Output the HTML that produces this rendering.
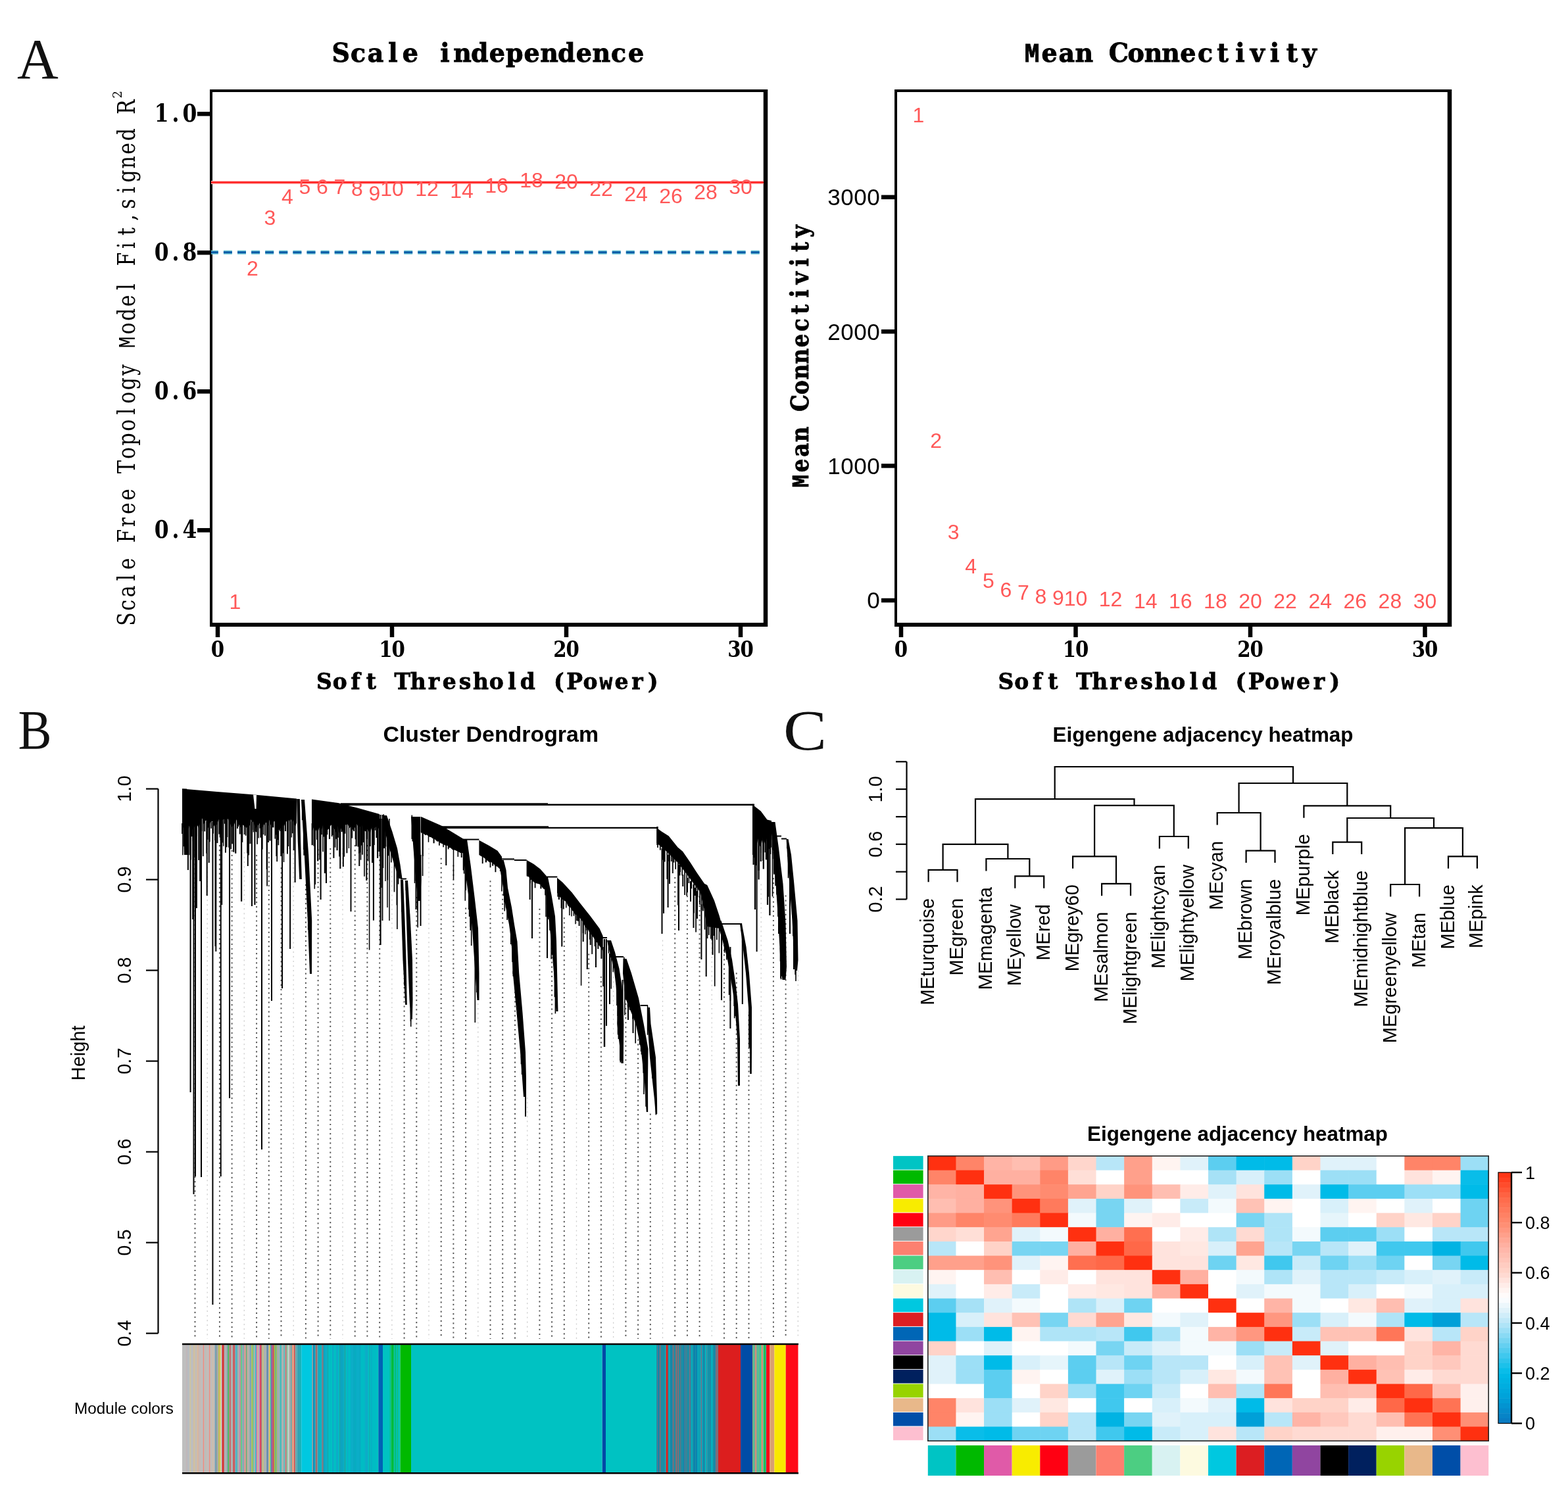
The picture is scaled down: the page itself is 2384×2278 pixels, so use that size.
<!DOCTYPE html>
<html><head><meta charset="utf-8"><title>WGCNA figure</title><style>html,body{margin:0;padding:0;background:#fff;}svg{display:block;}</style></head><body>
<svg width="2384" height="2278" viewBox="0 0 2384 2278">
<rect width="2384" height="2278" fill="#fff"/>
<text x="26" y="118.5" font-family="Liberation Serif, serif" font-size="87" fill="#111">A</text>
<text transform="translate(505.0,93.5) scale(0.950,1)" x="-0.55 29.51 56.51 89.67 112.33 145.88 173.03 193.88 222.23 251.28 277.81 306.85 332.83 361.17 390.22 416.20 446.35 473.59" y="0" font-family="DejaVu Serif, serif" font-weight="bold" font-size="40.0" fill="#000" stroke="#000" stroke-width="0.90">Scale independence</text>
<text transform="translate(1556.0,93.5) scale(0.950,1)" x="1.87 28.88 56.38 82.54 117.85 136.63 166.95 193.49 221.22 250.78 279.06 309.74 339.11 362.83 394.59 420.68 446.04" y="0" font-family="DejaVu Serif, serif" font-weight="bold" font-size="40.0" fill="#000" stroke="#000" stroke-width="0.90"><tspan font-family="Liberation Mono, monospace">M</tspan>ean Connectivity</text>
<path d="M319.0 138.0 H1164.0" stroke="#000" stroke-width="4" />
<path d="M321.0 136.0 V950.0" stroke="#000" stroke-width="4" />
<path d="M1164.0 136.0 V953.0" stroke="#000" stroke-width="6.5" />
<path d="M319.0 950.0 H1167.0" stroke="#000" stroke-width="6" />
<path d="M1360.0 138.0 H2204.0" stroke="#000" stroke-width="4" />
<path d="M1362.0 136.0 V950.0" stroke="#000" stroke-width="4" />
<path d="M2204.0 136.0 V953.0" stroke="#000" stroke-width="6.5" />
<path d="M1360.0 950.0 H2207.0" stroke="#000" stroke-width="6" />
<path d="M321 277.4 H1161" stroke="#ffb0b0" stroke-width="5" />
<path d="M321 277.4 H1161" stroke="#ff1010" stroke-width="2.2" />
<path d="M318.8 383.8 H1161" stroke="#6cc4d4" stroke-width="6" stroke-dasharray="13 8.1" />
<path d="M318.8 383.8 H1161" stroke="#0b5aa6" stroke-width="3" stroke-dasharray="13 8.1" />
<path d="M300 173.2 H321" stroke="#000" stroke-width="6.5" />
<text transform="translate(235.1,184.7) scale(0.860,1)" x="-0.31 30.80 49.22" y="0" font-family="DejaVu Serif, serif" font-weight="bold" font-size="36.5" fill="#000">1.0</text>
<path d="M300 384.2 H321" stroke="#000" stroke-width="6.5" />
<text transform="translate(235.1,395.7) scale(0.860,1)" x="-0.31 30.80 49.22" y="0" font-family="DejaVu Serif, serif" font-weight="bold" font-size="36.5" fill="#000">0.8</text>
<path d="M300 595.3 H321" stroke="#000" stroke-width="6.5" />
<text transform="translate(235.1,606.8) scale(0.860,1)" x="-0.31 30.80 49.22" y="0" font-family="DejaVu Serif, serif" font-weight="bold" font-size="36.5" fill="#000">0.6</text>
<path d="M300 806.3 H321" stroke="#000" stroke-width="6.5" />
<text transform="translate(235.1,817.8) scale(0.860,1)" x="-0.31 30.80 49.22" y="0" font-family="DejaVu Serif, serif" font-weight="bold" font-size="36.5" fill="#000">0.4</text>
<path d="M331.0 950 V969" stroke="#000" stroke-width="6.5" />
<text transform="translate(321.4,999.0) scale(0.860,1)" x="-0.67" y="0" font-family="DejaVu Serif, serif" font-weight="bold" font-size="34.0" fill="#000">0</text>
<path d="M596.0 950 V969" stroke="#000" stroke-width="6.5" />
<text transform="translate(576.8,999.0) scale(0.860,1)" x="-0.67 21.66" y="0" font-family="DejaVu Serif, serif" font-weight="bold" font-size="34.0" fill="#000">10</text>
<path d="M861.0 950 V969" stroke="#000" stroke-width="6.5" />
<text transform="translate(841.8,999.0) scale(0.860,1)" x="-0.67 21.66" y="0" font-family="DejaVu Serif, serif" font-weight="bold" font-size="34.0" fill="#000">20</text>
<path d="M1126.0 950 V969" stroke="#000" stroke-width="6.5" />
<text transform="translate(1106.8,999.0) scale(0.860,1)" x="-0.67 21.66" y="0" font-family="DejaVu Serif, serif" font-weight="bold" font-size="34.0" fill="#000">30</text>
<path d="M1370.0 950 V969" stroke="#000" stroke-width="6.5" />
<text transform="translate(1360.4,999.0) scale(0.860,1)" x="-0.67" y="0" font-family="DejaVu Serif, serif" font-weight="bold" font-size="34.0" fill="#000">0</text>
<path d="M1635.5 950 V969" stroke="#000" stroke-width="6.5" />
<text transform="translate(1616.3,999.0) scale(0.860,1)" x="-0.67 21.66" y="0" font-family="DejaVu Serif, serif" font-weight="bold" font-size="34.0" fill="#000">10</text>
<path d="M1901.0 950 V969" stroke="#000" stroke-width="6.5" />
<text transform="translate(1881.8,999.0) scale(0.860,1)" x="-0.67 21.66" y="0" font-family="DejaVu Serif, serif" font-weight="bold" font-size="34.0" fill="#000">20</text>
<path d="M2166.5 950 V969" stroke="#000" stroke-width="6.5" />
<text transform="translate(2147.3,999.0) scale(0.860,1)" x="-0.67 21.66" y="0" font-family="DejaVu Serif, serif" font-weight="bold" font-size="34.0" fill="#000">30</text>
<text transform="translate(481.0,1048.0) scale(0.970,1)" x="-0.01 25.47 54.03 78.02 104.49 122.30 147.12 175.06 197.74 223.52 245.27 270.83 300.24 319.35 349.85 372.27 392.06 418.04 443.72 467.64 494.03 519.48" y="0" font-family="DejaVu Serif, serif" font-weight="bold" font-size="34.0" fill="#000" stroke="#000" stroke-width="0.80">Soft Threshold (Po<tspan font-family="Liberation Mono, monospace">w</tspan>er)</text>
<text transform="translate(1517.5,1048.0) scale(0.970,1)" x="-0.01 25.47 54.03 78.02 104.49 122.30 147.12 175.06 197.74 223.52 245.27 270.83 300.24 319.35 349.85 372.27 392.06 418.04 443.72 467.64 494.03 519.48" y="0" font-family="DejaVu Serif, serif" font-weight="bold" font-size="34.0" fill="#000" stroke="#000" stroke-width="0.80">Soft Threshold (Po<tspan font-family="Liberation Mono, monospace">w</tspan>er)</text>
<text transform="translate(204.5,952.0) rotate(-90) scale(0.800,1)" x="0.31 28.97 54.60 86.10 107.31 138.76 158.02 188.38 212.56 238.87 270.32 290.09 317.62 343.22 370.24 401.85 422.87 448.47 476.19 507.13 528.15 554.43 580.03 607.25 638.66 665.01 684.27 717.60 742.37 770.26 792.91 822.85 843.15 869.39 896.69 922.09 954.45 972.60" y="0" font-family="DejaVu Serif, serif" font-weight="normal" font-size="37.5" fill="#000">Scale Free Topology <tspan font-family="Liberation Mono, monospace">M</tspan>odel Fit,signed R</text>
<text transform="translate(185,149.5) rotate(-90)" x="0" y="0" font-family="DejaVu Serif, serif" font-size="18" fill="#000">2</text>
<text transform="translate(1228.7,743.5) rotate(-90) scale(0.880,1)" x="2.39 28.71 55.48 81.01 115.01 133.71 163.09 188.96 215.95 244.62 272.12 301.82 330.33 353.60 384.31 409.78 434.56" y="0" font-family="DejaVu Serif, serif" font-weight="bold" font-size="37.0" fill="#000" stroke="#000" stroke-width="0.80"><tspan font-family="Liberation Mono, monospace">M</tspan>ean Connectivity</text>
<path d="M1340 913.0 H1362" stroke="#000" stroke-width="6.5" />
<text x="1318.3" y="925.3" font-family="Liberation Sans, serif" font-weight="normal" font-size="35.0" fill="#000" >0</text>
<path d="M1340 708.4 H1362" stroke="#000" stroke-width="6.5" />
<text x="1258.3 1278.3 1298.3 1318.3" y="720.7" font-family="Liberation Sans, serif" font-weight="normal" font-size="35.0" fill="#000" >1000</text>
<path d="M1340 504.2 H1362" stroke="#000" stroke-width="6.5" />
<text x="1258.3 1278.3 1298.3 1318.3" y="516.5" font-family="Liberation Sans, serif" font-weight="normal" font-size="35.0" fill="#000" >2000</text>
<path d="M1340 299.8 H1362" stroke="#000" stroke-width="6.5" />
<text x="1258.3 1278.3 1298.3 1318.3" y="312.1" font-family="Liberation Sans, serif" font-weight="normal" font-size="35.0" fill="#000" >3000</text>
<text x="357.5" y="925.9" text-anchor="middle" font-family="Liberation Sans, sans-serif" font-size="32" fill="#ff5858">1</text>
<text x="1396.5" y="186.0" text-anchor="middle" font-family="Liberation Sans, sans-serif" font-size="32" fill="#ff5858">1</text>
<text x="384.0" y="418.5" text-anchor="middle" font-family="Liberation Sans, sans-serif" font-size="32" fill="#ff5858">2</text>
<text x="1423.1" y="680.5" text-anchor="middle" font-family="Liberation Sans, sans-serif" font-size="32" fill="#ff5858">2</text>
<text x="410.5" y="342.2" text-anchor="middle" font-family="Liberation Sans, sans-serif" font-size="32" fill="#ff5858">3</text>
<text x="1449.7" y="819.5" text-anchor="middle" font-family="Liberation Sans, sans-serif" font-size="32" fill="#ff5858">3</text>
<text x="437.0" y="310.3" text-anchor="middle" font-family="Liberation Sans, sans-serif" font-size="32" fill="#ff5858">4</text>
<text x="1476.2" y="872.2" text-anchor="middle" font-family="Liberation Sans, sans-serif" font-size="32" fill="#ff5858">4</text>
<text x="463.5" y="295.1" text-anchor="middle" font-family="Liberation Sans, sans-serif" font-size="32" fill="#ff5858">5</text>
<text x="1502.8" y="893.5" text-anchor="middle" font-family="Liberation Sans, sans-serif" font-size="32" fill="#ff5858">5</text>
<text x="490.0" y="295.1" text-anchor="middle" font-family="Liberation Sans, sans-serif" font-size="32" fill="#ff5858">6</text>
<text x="1529.3" y="907.5" text-anchor="middle" font-family="Liberation Sans, sans-serif" font-size="32" fill="#ff5858">6</text>
<text x="516.5" y="295.0" text-anchor="middle" font-family="Liberation Sans, sans-serif" font-size="32" fill="#ff5858">7</text>
<text x="1555.8" y="911.9" text-anchor="middle" font-family="Liberation Sans, sans-serif" font-size="32" fill="#ff5858">7</text>
<text x="543.0" y="297.9" text-anchor="middle" font-family="Liberation Sans, sans-serif" font-size="32" fill="#ff5858">8</text>
<text x="1582.4" y="917.5" text-anchor="middle" font-family="Liberation Sans, sans-serif" font-size="32" fill="#ff5858">8</text>
<text x="569.5" y="304.5" text-anchor="middle" font-family="Liberation Sans, sans-serif" font-size="32" fill="#ff5858">9</text>
<text x="1609.0" y="919.8" text-anchor="middle" font-family="Liberation Sans, sans-serif" font-size="32" fill="#ff5858">9</text>
<text x="596.0" y="297.9" text-anchor="middle" font-family="Liberation Sans, sans-serif" font-size="32" fill="#ff5858">10</text>
<text x="1635.5" y="920.5" text-anchor="middle" font-family="Liberation Sans, sans-serif" font-size="32" fill="#ff5858">10</text>
<text x="649.0" y="297.5" text-anchor="middle" font-family="Liberation Sans, sans-serif" font-size="32" fill="#ff5858">12</text>
<text x="1688.6" y="922.0" text-anchor="middle" font-family="Liberation Sans, sans-serif" font-size="32" fill="#ff5858">12</text>
<text x="702.0" y="300.5" text-anchor="middle" font-family="Liberation Sans, sans-serif" font-size="32" fill="#ff5858">14</text>
<text x="1741.7" y="924.7" text-anchor="middle" font-family="Liberation Sans, sans-serif" font-size="32" fill="#ff5858">14</text>
<text x="755.0" y="292.9" text-anchor="middle" font-family="Liberation Sans, sans-serif" font-size="32" fill="#ff5858">16</text>
<text x="1794.8" y="924.7" text-anchor="middle" font-family="Liberation Sans, sans-serif" font-size="32" fill="#ff5858">16</text>
<text x="808.0" y="285.3" text-anchor="middle" font-family="Liberation Sans, sans-serif" font-size="32" fill="#ff5858">18</text>
<text x="1847.9" y="924.7" text-anchor="middle" font-family="Liberation Sans, sans-serif" font-size="32" fill="#ff5858">18</text>
<text x="861.0" y="287.3" text-anchor="middle" font-family="Liberation Sans, sans-serif" font-size="32" fill="#ff5858">20</text>
<text x="1901.0" y="924.7" text-anchor="middle" font-family="Liberation Sans, sans-serif" font-size="32" fill="#ff5858">20</text>
<text x="914.0" y="297.5" text-anchor="middle" font-family="Liberation Sans, sans-serif" font-size="32" fill="#ff5858">22</text>
<text x="1954.1" y="924.7" text-anchor="middle" font-family="Liberation Sans, sans-serif" font-size="32" fill="#ff5858">22</text>
<text x="967.0" y="305.9" text-anchor="middle" font-family="Liberation Sans, sans-serif" font-size="32" fill="#ff5858">24</text>
<text x="2007.2" y="924.7" text-anchor="middle" font-family="Liberation Sans, sans-serif" font-size="32" fill="#ff5858">24</text>
<text x="1020.0" y="308.5" text-anchor="middle" font-family="Liberation Sans, sans-serif" font-size="32" fill="#ff5858">26</text>
<text x="2060.3" y="924.7" text-anchor="middle" font-family="Liberation Sans, sans-serif" font-size="32" fill="#ff5858">26</text>
<text x="1073.0" y="302.9" text-anchor="middle" font-family="Liberation Sans, sans-serif" font-size="32" fill="#ff5858">28</text>
<text x="2113.4" y="924.7" text-anchor="middle" font-family="Liberation Sans, sans-serif" font-size="32" fill="#ff5858">28</text>
<text x="1126.0" y="295.2" text-anchor="middle" font-family="Liberation Sans, sans-serif" font-size="32" fill="#ff5858">30</text>
<text x="2166.5" y="924.7" text-anchor="middle" font-family="Liberation Sans, sans-serif" font-size="32" fill="#ff5858">30</text>
<text transform="translate(27.5,1139) scale(0.9,1)" x="0" y="0" font-family="Liberation Serif, serif" font-size="85" fill="#111">B</text>
<text x="582.5" y="1128.4" font-family="Liberation Sans, sans-serif" font-weight="bold" font-size="33" textLength="327.5" lengthAdjust="spacingAndGlyphs">Cluster Dendrogram</text>
<path d="M240.5 1199.6 V2027.6" stroke="#000" stroke-width="2.2"/>
<path d="M222.0 1199.6 H240.5" stroke="#000" stroke-width="2.2"/>
<text transform="translate(199,1199.6) rotate(-90)" x="0" y="0" text-anchor="middle" font-family="Liberation Sans, sans-serif" font-size="29">1.0</text>
<path d="M222.0 1337.6 H240.5" stroke="#000" stroke-width="2.2"/>
<text transform="translate(199,1337.6) rotate(-90)" x="0" y="0" text-anchor="middle" font-family="Liberation Sans, sans-serif" font-size="29">0.9</text>
<path d="M222.0 1475.6 H240.5" stroke="#000" stroke-width="2.2"/>
<text transform="translate(199,1475.6) rotate(-90)" x="0" y="0" text-anchor="middle" font-family="Liberation Sans, sans-serif" font-size="29">0.8</text>
<path d="M222.0 1613.6 H240.5" stroke="#000" stroke-width="2.2"/>
<text transform="translate(199,1613.6) rotate(-90)" x="0" y="0" text-anchor="middle" font-family="Liberation Sans, sans-serif" font-size="29">0.7</text>
<path d="M222.0 1751.6 H240.5" stroke="#000" stroke-width="2.2"/>
<text transform="translate(199,1751.6) rotate(-90)" x="0" y="0" text-anchor="middle" font-family="Liberation Sans, sans-serif" font-size="29">0.6</text>
<path d="M222.0 1889.6 H240.5" stroke="#000" stroke-width="2.2"/>
<text transform="translate(199,1889.6) rotate(-90)" x="0" y="0" text-anchor="middle" font-family="Liberation Sans, sans-serif" font-size="29">0.5</text>
<path d="M222.0 2027.6 H240.5" stroke="#000" stroke-width="2.2"/>
<text transform="translate(199,2027.6) rotate(-90)" x="0" y="0" text-anchor="middle" font-family="Liberation Sans, sans-serif" font-size="29">0.4</text>
<text transform="translate(129,1601.4) rotate(-90)" x="0" y="0" text-anchor="middle" font-family="Liberation Sans, sans-serif" font-size="29">Height</text>
<text x="113" y="2149.7" font-family="Liberation Sans, sans-serif" font-size="23.5" textLength="151" lengthAdjust="spacingAndGlyphs">Module colors</text>
<g><path d="M296.5 1291.9 V2036" stroke="#555" stroke-width="1.9" stroke-dasharray="2.2 4.9"/><path d="M315.2 1289.9 V2036" stroke="#cfcfcf" stroke-width="1.3" stroke-dasharray="2.2 4.9"/><path d="M333.9 1285.0 V2036" stroke="#555" stroke-width="1.9" stroke-dasharray="2.2 4.9"/><path d="M352.6 1292.8 V2036" stroke="#555" stroke-width="1.9" stroke-dasharray="2.2 4.9"/><path d="M371.3 1295.9 V2036" stroke="#cfcfcf" stroke-width="1.3" stroke-dasharray="2.2 4.9"/><path d="M390.1 1300.0 V2036" stroke="#555" stroke-width="1.9" stroke-dasharray="2.2 4.9"/><path d="M408.8 1296.1 V2036" stroke="#555" stroke-width="1.9" stroke-dasharray="2.2 4.9"/><path d="M427.5 1319.3 V2036" stroke="#555" stroke-width="1.9" stroke-dasharray="2.2 4.9"/><path d="M446.2 1290.5 V2036" stroke="#cfcfcf" stroke-width="1.3" stroke-dasharray="2.2 4.9"/><path d="M464.9 1344.7 V2036" stroke="#555" stroke-width="1.9" stroke-dasharray="2.2 4.9"/><path d="M483.6 1291.2 V2036" stroke="#555" stroke-width="1.9" stroke-dasharray="2.2 4.9"/><path d="M502.3 1290.0 V2036" stroke="#555" stroke-width="1.9" stroke-dasharray="2.2 4.9"/><path d="M521.0 1290.0 V2036" stroke="#cfcfcf" stroke-width="1.3" stroke-dasharray="2.2 4.9"/><path d="M539.7 1285.1 V2036" stroke="#555" stroke-width="1.9" stroke-dasharray="2.2 4.9"/><path d="M558.4 1285.0 V2036" stroke="#555" stroke-width="1.9" stroke-dasharray="2.2 4.9"/><path d="M577.2 1300.1 V2036" stroke="#555" stroke-width="1.9" stroke-dasharray="2.2 4.9"/><path d="M595.9 1317.9 V2036" stroke="#cfcfcf" stroke-width="1.3" stroke-dasharray="2.2 4.9"/><path d="M614.6 1437.2 V2036" stroke="#555" stroke-width="1.9" stroke-dasharray="2.2 4.9"/><path d="M633.3 1363.9 V2036" stroke="#555" stroke-width="1.9" stroke-dasharray="2.2 4.9"/><path d="M652.0 1290.0 V2036" stroke="#cfcfcf" stroke-width="1.3" stroke-dasharray="2.2 4.9"/><path d="M670.7 1304.8 V2036" stroke="#555" stroke-width="1.9" stroke-dasharray="2.2 4.9"/><path d="M689.4 1315.4 V2036" stroke="#555" stroke-width="1.9" stroke-dasharray="2.2 4.9"/><path d="M708.1 1380.6 V2036" stroke="#555" stroke-width="1.9" stroke-dasharray="2.2 4.9"/><path d="M726.8 1469.2 V2036" stroke="#cfcfcf" stroke-width="1.3" stroke-dasharray="2.2 4.9"/><path d="M745.5 1339.2 V2036" stroke="#555" stroke-width="1.9" stroke-dasharray="2.2 4.9"/><path d="M764.2 1359.6 V2036" stroke="#555" stroke-width="1.9" stroke-dasharray="2.2 4.9"/><path d="M783.0 1479.7 V2036" stroke="#555" stroke-width="1.9" stroke-dasharray="2.2 4.9"/><path d="M801.7 1668.7 V2036" stroke="#cfcfcf" stroke-width="1.3" stroke-dasharray="2.2 4.9"/><path d="M820.4 1381.8 V2036" stroke="#555" stroke-width="1.9" stroke-dasharray="2.2 4.9"/><path d="M839.1 1419.9 V2036" stroke="#555" stroke-width="1.9" stroke-dasharray="2.2 4.9"/><path d="M857.8 1395.3 V2036" stroke="#555" stroke-width="1.9" stroke-dasharray="2.2 4.9"/><path d="M876.5 1401.8 V2036" stroke="#cfcfcf" stroke-width="1.3" stroke-dasharray="2.2 4.9"/><path d="M895.2 1450.4 V2036" stroke="#555" stroke-width="1.9" stroke-dasharray="2.2 4.9"/><path d="M913.9 1484.9 V2036" stroke="#555" stroke-width="1.9" stroke-dasharray="2.2 4.9"/><path d="M932.6 1478.1 V2036" stroke="#cfcfcf" stroke-width="1.3" stroke-dasharray="2.2 4.9"/><path d="M951.4 1518.6 V2036" stroke="#555" stroke-width="1.9" stroke-dasharray="2.2 4.9"/><path d="M970.1 1580.4 V2036" stroke="#555" stroke-width="1.9" stroke-dasharray="2.2 4.9"/><path d="M988.8 1693.6 V2036" stroke="#555" stroke-width="1.9" stroke-dasharray="2.2 4.9"/><path d="M1007.5 1429.5 V2036" stroke="#cfcfcf" stroke-width="1.3" stroke-dasharray="2.2 4.9"/><path d="M1026.2 1333.9 V2036" stroke="#555" stroke-width="1.9" stroke-dasharray="2.2 4.9"/><path d="M1044.9 1347.9 V2036" stroke="#555" stroke-width="1.9" stroke-dasharray="2.2 4.9"/><path d="M1063.6 1362.7 V2036" stroke="#555" stroke-width="1.9" stroke-dasharray="2.2 4.9"/><path d="M1082.3 1391.0 V2036" stroke="#cfcfcf" stroke-width="1.3" stroke-dasharray="2.2 4.9"/><path d="M1101.0 1430.0 V2036" stroke="#555" stroke-width="1.9" stroke-dasharray="2.2 4.9"/><path d="M1119.7 1479.3 V2036" stroke="#555" stroke-width="1.9" stroke-dasharray="2.2 4.9"/><path d="M1138.5 1543.1 V2036" stroke="#555" stroke-width="1.9" stroke-dasharray="2.2 4.9"/><path d="M1157.2 1344.3 V2036" stroke="#cfcfcf" stroke-width="1.3" stroke-dasharray="2.2 4.9"/><path d="M1175.9 1335.0 V2036" stroke="#555" stroke-width="1.9" stroke-dasharray="2.2 4.9"/><path d="M1194.6 1361.4 V2036" stroke="#555" stroke-width="1.9" stroke-dasharray="2.2 4.9"/><path d="M1213.3 1475.6 V2036" stroke="#cfcfcf" stroke-width="1.3" stroke-dasharray="2.2 4.9"/></g>
<g><polygon points="277.0,1199.5 330.0,1204.0 384.0,1208.3 451.0,1214.5 451.0,1251.2 449.1,1256.4 447.4,1254.5 445.0,1246.8 442.3,1246.5 439.7,1247.0 437.9,1252.6 434.4,1247.7 432.3,1255.8 428.5,1254.9 426.0,1261.3 424.3,1259.4 422.1,1247.9 420.3,1250.5 416.8,1248.4 413.8,1255.7 411.4,1254.2 409.7,1246.4 407.7,1256.3 405.2,1250.4 402.2,1252.6 399.9,1258.0 396.7,1249.1 393.8,1253.6 390.1,1256.8 387.9,1260.8 386.1,1251.8 382.7,1247.5 379.9,1245.6 376.8,1257.2 373.8,1258.9 371.6,1256.0 368.6,1254.1 365.9,1258.3 362.1,1252.4 358.9,1245.7 355.7,1255.0 351.7,1257.8 349.5,1250.8 346.3,1244.9 343.6,1247.2 341.8,1245.5 338.4,1246.5 336.3,1250.7 332.6,1245.7 330.0,1253.2 326.3,1257.4 322.6,1248.7 320.1,1250.0 316.4,1259.5 314.5,1247.0 312.4,1247.9 309.7,1253.5 307.6,1244.2 305.0,1250.0 302.1,1259.3 298.9,1252.7 295.8,1256.6 294.2,1260.9 290.7,1262.0 287.2,1255.8 284.7,1252.3 281.7,1253.0 280.0,1256.0 278.1,1259.0 277.0,1262.0" fill="#000"/>
<path d="M277.0 1252.0 V1267.9" stroke="#000" stroke-width="1.7"/>
<path d="M277.9 1251.6 V1300.3" stroke="#000" stroke-width="1.5"/>
<path d="M279.3 1251.0 V1287.2" stroke="#000" stroke-width="1.5"/>
<path d="M282.1 1249.8 V1291.1" stroke="#000" stroke-width="1.8"/>
<path d="M283.1 1249.3 V1282.4" stroke="#000" stroke-width="1.6"/>
<path d="M285.9 1248.1 V1259.4" stroke="#000" stroke-width="2.2"/>
<path d="M288.0 1247.2 V1300.3" stroke="#000" stroke-width="1.4"/>
<path d="M290.0 1246.3 V1307.5" stroke="#000" stroke-width="2.0"/>
<path d="M291.5 1245.7 V1272.1" stroke="#000" stroke-width="2.0"/>
<path d="M293.5 1244.8 V1279.3" stroke="#000" stroke-width="1.6"/>
<path d="M296.3 1243.6 V1304.2" stroke="#000" stroke-width="2.0"/>
<path d="M299.1 1242.4 V1271.7" stroke="#000" stroke-width="1.8"/>
<path d="M300.7 1242.0 V1253.6" stroke="#000" stroke-width="1.6"/>
<path d="M302.1 1242.0 V1307.9" stroke="#000" stroke-width="1.8"/>
<path d="M305.2 1242.1 V1307.8" stroke="#000" stroke-width="1.7"/>
<path d="M306.5 1242.1 V1264.1" stroke="#000" stroke-width="1.6"/>
<path d="M308.8 1242.1 V1302.1" stroke="#000" stroke-width="1.8"/>
<path d="M311.2 1242.1 V1264.4" stroke="#000" stroke-width="1.9"/>
<path d="M314.2 1242.2 V1297.7" stroke="#000" stroke-width="1.8"/>
<path d="M315.4 1242.2 V1276.8" stroke="#000" stroke-width="2.0"/>
<path d="M318.5 1242.2 V1280.3" stroke="#000" stroke-width="2.2"/>
<path d="M321.1 1242.3 V1259.7" stroke="#000" stroke-width="1.5"/>
<path d="M324.0 1242.3 V1267.6" stroke="#000" stroke-width="2.1"/>
<path d="M327.2 1242.3 V1277.9" stroke="#000" stroke-width="1.8"/>
<path d="M328.3 1242.4 V1446.9" stroke="#000" stroke-width="1.9"/>
<path d="M330.4 1242.4 V1282.1" stroke="#000" stroke-width="2.1"/>
<path d="M333.1 1242.4 V1268.4" stroke="#000" stroke-width="1.6"/>
<path d="M334.5 1242.4 V1273.4" stroke="#000" stroke-width="1.7"/>
<path d="M335.6 1242.4 V1278.1" stroke="#000" stroke-width="1.8"/>
<path d="M337.8 1242.5 V1281.5" stroke="#000" stroke-width="2.1"/>
<path d="M339.8 1242.5 V1286.7" stroke="#000" stroke-width="1.4"/>
<path d="M341.7 1242.5 V1252.7" stroke="#000" stroke-width="2.0"/>
<path d="M342.9 1242.5 V1296.8" stroke="#000" stroke-width="1.8"/>
<path d="M344.5 1242.6 V1288.3" stroke="#000" stroke-width="2.0"/>
<path d="M345.5 1242.6 V1273.0" stroke="#000" stroke-width="1.6"/>
<path d="M348.2 1242.6 V1288.7" stroke="#000" stroke-width="2.0"/>
<path d="M351.2 1242.6 V1291.3" stroke="#000" stroke-width="1.8"/>
<path d="M353.2 1242.7 V1283.3" stroke="#000" stroke-width="1.8"/>
<path d="M355.2 1242.7 V1295.7" stroke="#000" stroke-width="2.1"/>
<path d="M358.2 1242.7 V1297.8" stroke="#000" stroke-width="2.2"/>
<path d="M361.0 1242.8 V1259.9" stroke="#000" stroke-width="1.8"/>
<path d="M362.0 1242.8 V1257.0" stroke="#000" stroke-width="1.9"/>
<path d="M364.7 1242.8 V1268.5" stroke="#000" stroke-width="2.0"/>
<path d="M367.1 1242.8 V1370.8" stroke="#000" stroke-width="2.2"/>
<path d="M368.4 1242.9 V1280.8" stroke="#000" stroke-width="1.8"/>
<path d="M371.6 1242.9 V1269.0" stroke="#000" stroke-width="1.7"/>
<path d="M373.6 1242.9 V1270.7" stroke="#000" stroke-width="1.7"/>
<path d="M376.2 1243.0 V1297.4" stroke="#000" stroke-width="1.8"/>
<path d="M377.0 1243.0 V1292.2" stroke="#000" stroke-width="1.8"/>
<path d="M377.9 1243.0 V1300.4" stroke="#000" stroke-width="2.2"/>
<path d="M379.0 1243.0 V1255.2" stroke="#000" stroke-width="2.0"/>
<path d="M380.5 1243.0 V1283.2" stroke="#000" stroke-width="2.1"/>
<path d="M383.2 1243.0 V1261.9" stroke="#000" stroke-width="2.1"/>
<path d="M385.4 1243.1 V1265.5" stroke="#000" stroke-width="1.4"/>
<path d="M387.8 1243.1 V1264.7" stroke="#000" stroke-width="2.2"/>
<path d="M390.2 1243.1 V1265.3" stroke="#000" stroke-width="2.1"/>
<path d="M391.1 1243.2 V1283.8" stroke="#000" stroke-width="1.7"/>
<path d="M393.2 1243.2 V1274.6" stroke="#000" stroke-width="1.5"/>
<path d="M395.3 1243.2 V1259.6" stroke="#000" stroke-width="1.5"/>
<path d="M396.2 1243.2 V1273.8" stroke="#000" stroke-width="1.6"/>
<path d="M398.9 1243.3 V1291.4" stroke="#000" stroke-width="1.5"/>
<path d="M400.5 1243.3 V1269.1" stroke="#000" stroke-width="1.4"/>
<path d="M403.0 1243.3 V1270.8" stroke="#000" stroke-width="1.8"/>
<path d="M406.1 1243.4 V1347.4" stroke="#000" stroke-width="1.7"/>
<path d="M408.1 1243.4 V1281.0" stroke="#000" stroke-width="1.8"/>
<path d="M410.5 1243.4 V1278.6" stroke="#000" stroke-width="2.1"/>
<path d="M413.0 1243.5 V1281.7" stroke="#000" stroke-width="1.7"/>
<path d="M414.0 1243.5 V1257.5" stroke="#000" stroke-width="2.0"/>
<path d="M415.4 1243.5 V1258.4" stroke="#000" stroke-width="2.1"/>
<path d="M418.3 1243.5 V1275.6" stroke="#000" stroke-width="1.6"/>
<path d="M419.8 1243.6 V1269.4" stroke="#000" stroke-width="1.8"/>
<path d="M421.2 1243.6 V1310.2" stroke="#000" stroke-width="1.8"/>
<path d="M422.6 1243.6 V1277.1" stroke="#000" stroke-width="1.7"/>
<path d="M423.4 1243.6 V1285.3" stroke="#000" stroke-width="1.8"/>
<path d="M424.7 1243.6 V1261.9" stroke="#000" stroke-width="1.6"/>
<path d="M425.7 1243.6 V1263.7" stroke="#000" stroke-width="1.4"/>
<path d="M427.2 1243.7 V1302.1" stroke="#000" stroke-width="1.8"/>
<path d="M429.8 1243.7 V1297.5" stroke="#000" stroke-width="2.1"/>
<path d="M431.5 1243.7 V1311.0" stroke="#000" stroke-width="1.5"/>
<path d="M434.1 1243.8 V1264.0" stroke="#000" stroke-width="2.1"/>
<path d="M437.0 1243.8 V1298.5" stroke="#000" stroke-width="2.0"/>
<path d="M438.2 1243.8 V1287.0" stroke="#000" stroke-width="2.1"/>
<path d="M440.9 1243.9 V1291.1" stroke="#000" stroke-width="2.1"/>
<path d="M443.3 1243.9 V1273.4" stroke="#000" stroke-width="1.4"/>
<path d="M444.4 1243.9 V1267.2" stroke="#000" stroke-width="2.1"/>
<path d="M446.6 1243.9 V1293.2" stroke="#000" stroke-width="1.9"/>
<path d="M448.6 1244.0 V1341.9" stroke="#000" stroke-width="2.0"/>
<polygon points="277.0,1199.5 284.0,1199.5 287.0,1300.0 280.0,1300.0" fill="#000"/>
<polygon points="385.0,1208.5 390.0,1209.0 389.5,1230.0 387.5,1230.0" fill="#fff"/>
<polygon points="474.0,1215.5 514.0,1221.0 545.0,1229.0 577.0,1238.0 577.0,1263.6 573.9,1255.8 570.5,1258.6 568.8,1258.7 565.5,1257.5 562.2,1269.6 559.4,1259.9 556.7,1264.5 553.3,1263.2 550.2,1254.4 548.3,1257.1 545.0,1257.6 542.0,1252.7 540.4,1256.7 537.2,1263.3 534.0,1256.6 531.2,1259.2 528.6,1253.5 524.8,1254.5 520.9,1266.0 519.3,1258.4 515.8,1266.8 513.2,1255.7 511.1,1266.7 509.1,1261.0 507.3,1260.2 503.4,1254.2 499.8,1260.5 496.1,1263.8 494.0,1267.1 491.3,1253.3 489.8,1260.8 487.2,1258.0 485.3,1258.8 483.0,1266.9 481.5,1265.5 477.9,1255.7 474.1,1265.4 474.0,1262.0" fill="#000"/>
<path d="M474.7 1252.0 V1285.2" stroke="#000" stroke-width="2.2"/>
<path d="M477.2 1251.8 V1286.6" stroke="#000" stroke-width="1.6"/>
<path d="M478.3 1251.7 V1351.7" stroke="#000" stroke-width="1.6"/>
<path d="M481.8 1251.5 V1276.9" stroke="#000" stroke-width="1.8"/>
<path d="M483.2 1251.4 V1309.5" stroke="#000" stroke-width="2.1"/>
<path d="M486.4 1251.2 V1307.4" stroke="#000" stroke-width="2.2"/>
<path d="M488.8 1251.0 V1269.2" stroke="#000" stroke-width="2.0"/>
<path d="M491.0 1250.9 V1295.3" stroke="#000" stroke-width="1.6"/>
<path d="M492.0 1250.8 V1272.4" stroke="#000" stroke-width="1.8"/>
<path d="M493.9 1250.7 V1327.9" stroke="#000" stroke-width="2.2"/>
<path d="M495.5 1250.6 V1279.8" stroke="#000" stroke-width="1.8"/>
<path d="M497.5 1250.5 V1269.3" stroke="#000" stroke-width="1.6"/>
<path d="M501.0 1250.2 V1275.9" stroke="#000" stroke-width="2.1"/>
<path d="M504.6 1250.0 V1272.1" stroke="#000" stroke-width="1.6"/>
<path d="M505.8 1249.9 V1269.9" stroke="#000" stroke-width="1.6"/>
<path d="M507.4 1249.8 V1304.9" stroke="#000" stroke-width="2.0"/>
<path d="M509.5 1249.7 V1288.7" stroke="#000" stroke-width="1.7"/>
<path d="M511.4 1249.6 V1275.8" stroke="#000" stroke-width="2.2"/>
<path d="M512.6 1249.5 V1293.2" stroke="#000" stroke-width="2.1"/>
<path d="M514.1 1249.4 V1273.7" stroke="#000" stroke-width="1.7"/>
<path d="M516.3 1249.2 V1302.6" stroke="#000" stroke-width="2.1"/>
<path d="M517.3 1249.2 V1321.0" stroke="#000" stroke-width="2.1"/>
<path d="M519.5 1249.0 V1265.0" stroke="#000" stroke-width="1.7"/>
<path d="M523.0 1249.2 V1302.8" stroke="#000" stroke-width="2.2"/>
<path d="M524.6 1249.3 V1267.7" stroke="#000" stroke-width="1.8"/>
<path d="M527.4 1249.5 V1297.3" stroke="#000" stroke-width="1.9"/>
<path d="M530.4 1249.7 V1290.0" stroke="#000" stroke-width="1.4"/>
<path d="M533.5 1249.9 V1386.2" stroke="#000" stroke-width="1.9"/>
<path d="M535.2 1250.1 V1274.6" stroke="#000" stroke-width="1.9"/>
<path d="M538.1 1250.3 V1263.9" stroke="#000" stroke-width="1.8"/>
<path d="M540.6 1250.4 V1276.3" stroke="#000" stroke-width="1.9"/>
<path d="M541.6 1250.5 V1286.8" stroke="#000" stroke-width="2.2"/>
<path d="M544.3 1250.7 V1287.6" stroke="#000" stroke-width="1.6"/>
<path d="M545.9 1250.8 V1297.8" stroke="#000" stroke-width="1.6"/>
<path d="M546.9 1250.9 V1296.6" stroke="#000" stroke-width="1.7"/>
<path d="M548.5 1251.0 V1307.7" stroke="#000" stroke-width="1.6"/>
<path d="M549.5 1251.1 V1285.6" stroke="#000" stroke-width="1.9"/>
<path d="M551.0 1251.2 V1299.7" stroke="#000" stroke-width="1.8"/>
<path d="M552.4 1251.3 V1281.0" stroke="#000" stroke-width="2.1"/>
<path d="M554.0 1251.4 V1332.8" stroke="#000" stroke-width="1.6"/>
<path d="M557.6 1251.6 V1275.9" stroke="#000" stroke-width="1.6"/>
<path d="M559.6 1251.8 V1309.5" stroke="#000" stroke-width="1.5"/>
<path d="M561.6 1251.9 V1444.6" stroke="#000" stroke-width="1.5"/>
<path d="M562.7 1252.0 V1287.0" stroke="#000" stroke-width="2.1"/>
<path d="M566.1 1252.2 V1312.1" stroke="#000" stroke-width="2.1"/>
<path d="M567.9 1252.4 V1399.7" stroke="#000" stroke-width="2.0"/>
<path d="M568.9 1252.4 V1285.1" stroke="#000" stroke-width="1.7"/>
<path d="M570.7 1252.6 V1262.7" stroke="#000" stroke-width="1.6"/>
<path d="M572.6 1252.7 V1274.1" stroke="#000" stroke-width="2.2"/>
<path d="M574.1 1252.8 V1304.9" stroke="#000" stroke-width="2.1"/>
<path d="M576.2 1252.9 V1295.0" stroke="#000" stroke-width="1.7"/>
<polygon points="451.2,1215.0 452.8,1280.0 455.2,1337.0 458.8,1337.0 457.2,1280.0 455.8,1215.0" fill="#000"/>
<polygon points="458.0,1216.0 462.8,1300.0 467.8,1400.0 471.0,1481.0 474.0,1481.0 474.2,1400.0 469.2,1300.0 463.0,1216.0" fill="#000"/>
<path d="M461.8 1256.8 V1292.0" stroke="#000" stroke-width="1.6"/>
<path d="M459.7 1219.0 V1247.1" stroke="#000" stroke-width="1.6"/>
<path d="M468.7 1405.4 V1413.8" stroke="#000" stroke-width="1.6"/>
<path d="M461.2 1226.5 V1238.1" stroke="#000" stroke-width="1.6"/>
<path d="M470.3 1401.1 V1414.0" stroke="#000" stroke-width="1.6"/>
<path d="M464.0 1275.1 V1294.6" stroke="#000" stroke-width="1.6"/>
<path d="M463.4 1272.8 V1285.3" stroke="#000" stroke-width="1.6"/>
<path d="M462.1 1275.9 V1300.8" stroke="#000" stroke-width="1.6"/>
<path d="M578.5 1239.0 V1437.0" stroke="#000" stroke-width="2.2"/>
<path d="M581.5 1239.0 V1400.0" stroke="#000" stroke-width="1.8"/>
<path d="M577.5 1245.0 V1300.0" stroke="#000" stroke-width="1.5"/>
<path d="M580.0 1245.0 V1350.0" stroke="#000" stroke-width="1.5"/>
<path d="M582.5 1245.0 V1320.0" stroke="#000" stroke-width="1.5"/>
<path d="M583.5 1245.0 V1290.0" stroke="#000" stroke-width="1.5"/>
<path d="M586.0 1245.0 V1340.0" stroke="#000" stroke-width="1.5"/>
<path d="M589.0 1245.0 V1380.0" stroke="#000" stroke-width="1.5"/>
<path d="M592.0 1245.0 V1400.0" stroke="#000" stroke-width="1.5"/>
<polygon points="582.0,1240.0 585.5,1265.0 592.0,1290.0 599.5,1315.0 606.5,1336.0 611.5,1336.0 608.5,1315.0 604.0,1290.0 596.5,1265.0 588.0,1240.0" fill="#000"/>
<path d="M603.9 1318.8 V1412.9" stroke="#000" stroke-width="1.6"/>
<path d="M583.3 1238.2 V1265.6" stroke="#000" stroke-width="1.6"/>
<path d="M605.6 1321.9 V1344.6" stroke="#000" stroke-width="1.6"/>
<path d="M586.6 1259.1 V1287.5" stroke="#000" stroke-width="1.6"/>
<path d="M603.3 1319.7 V1376.4" stroke="#000" stroke-width="1.6"/>
<path d="M599.5 1303.9 V1356.4" stroke="#000" stroke-width="1.6"/>
<path d="M594.9 1291.9 V1311.4" stroke="#000" stroke-width="1.6"/>
<path d="M589.7 1269.3 V1279.8" stroke="#000" stroke-width="1.6"/>
<path d="M586.5 1254.2 V1270.7" stroke="#000" stroke-width="1.6"/>
<path d="M583.4 1242.0 V1274.1" stroke="#000" stroke-width="1.6"/>
<path d="M589.3 1266.0 V1338.5" stroke="#000" stroke-width="1.6"/>
<path d="M605.0 1324.3 V1335.0" stroke="#000" stroke-width="1.6"/>
<path d="M584.7 1244.9 V1290.0" stroke="#000" stroke-width="1.6"/>
<path d="M590.7 1277.1 V1301.3" stroke="#000" stroke-width="1.6"/>
<path d="M609.0 1336.5 H618.0" stroke="#000" stroke-width="2.0"/>
<polygon points="609.0,1338.0 610.5,1400.0 612.5,1460.0 616.2,1528.0 618.8,1528.0 617.5,1460.0 615.5,1400.0 613.0,1338.0" fill="#000"/>
<path d="M613.8 1438.7 V1467.4" stroke="#000" stroke-width="1.6"/>
<path d="M615.6 1479.0 V1488.9" stroke="#000" stroke-width="1.6"/>
<path d="M614.8 1477.8 V1498.4" stroke="#000" stroke-width="1.6"/>
<path d="M612.5 1397.8 V1409.1" stroke="#000" stroke-width="1.6"/>
<path d="M611.0 1376.3 V1386.8" stroke="#000" stroke-width="1.6"/>
<path d="M615.8 1485.9 V1499.9" stroke="#000" stroke-width="1.6"/>
<polygon points="616.0,1339.0 618.0,1400.0 620.0,1460.0 622.5,1520.0 624.4,1550.0 626.9,1550.0 627.5,1520.0 627.0,1460.0 624.0,1400.0 620.0,1339.0" fill="#000"/>
<path d="M621.4 1423.5 V1442.1" stroke="#000" stroke-width="1.6"/>
<path d="M619.8 1386.9 V1410.8" stroke="#000" stroke-width="1.6"/>
<path d="M624.4 1535.4 V1553.1" stroke="#000" stroke-width="1.6"/>
<path d="M624.7 1516.4 V1561.3" stroke="#000" stroke-width="1.6"/>
<path d="M617.4 1344.1 V1354.0" stroke="#000" stroke-width="1.6"/>
<path d="M619.8 1377.6 V1398.7" stroke="#000" stroke-width="1.6"/>
<polygon points="625.0,1242.0 628.5,1290.0 632.5,1338.0 635.0,1370.0 639.0,1370.0 640.5,1338.0 639.5,1290.0 639.0,1242.0" fill="#000"/>
<path d="M635.2 1352.2 V1410.4" stroke="#000" stroke-width="1.6"/>
<path d="M630.5 1297.5 V1343.1" stroke="#000" stroke-width="1.6"/>
<path d="M634.7 1353.5 V1384.2" stroke="#000" stroke-width="1.6"/>
<path d="M632.3 1320.1 V1339.6" stroke="#000" stroke-width="1.6"/>
<path d="M627.3 1256.7 V1272.1" stroke="#000" stroke-width="1.6"/>
<path d="M632.9 1317.4 V1331.1" stroke="#000" stroke-width="1.6"/>
<path d="M626.3 1239.5 V1275.9" stroke="#000" stroke-width="1.6"/>
<path d="M627.9 1262.5 V1276.2" stroke="#000" stroke-width="1.6"/>
<path d="M634.6 1340.2 V1349.9" stroke="#000" stroke-width="1.6"/>
<path d="M627.3 1251.4 V1279.4" stroke="#000" stroke-width="1.6"/>
<path d="M632.5 1300.0 V1383.0" stroke="#000" stroke-width="2.0"/>
<path d="M639.5 1300.0 V1408.0" stroke="#000" stroke-width="2.0"/>
<polygon points="639.7,1241.7 668.7,1254.4 672.0,1256.0 705.0,1276.0 705.0,1298.4 703.3,1297.0 700.0,1297.1 697.8,1295.7 693.9,1293.7 691.0,1292.4 688.5,1292.6 684.5,1289.1 682.5,1289.2 680.5,1286.0 676.7,1285.4 673.2,1283.6 669.5,1281.9 667.6,1279.5 664.7,1279.8 660.9,1276.0 657.9,1275.1 655.1,1272.9 652.9,1272.8 649.1,1269.4 646.4,1270.0 642.4,1265.9 640.6,1267.1 639.7,1265.3" fill="#000"/>
<path d="M642.6 1256.9 V1332.1" stroke="#000" stroke-width="1.7"/>
<path d="M651.5 1261.9 V1280.7" stroke="#000" stroke-width="1.5"/>
<path d="M659.6 1266.5 V1282.3" stroke="#000" stroke-width="2.1"/>
<path d="M667.9 1271.2 V1285.7" stroke="#000" stroke-width="1.7"/>
<path d="M674.1 1274.3 V1288.2" stroke="#000" stroke-width="1.6"/>
<path d="M681.7 1278.1 V1291.4" stroke="#000" stroke-width="1.8"/>
<path d="M689.5 1282.1 V1337.6" stroke="#000" stroke-width="1.5"/>
<path d="M696.3 1285.5 V1302.9" stroke="#000" stroke-width="1.6"/>
<path d="M701.7 1288.0 V1304.0" stroke="#000" stroke-width="1.9"/>
<polygon points="702.0,1276.0 706.2,1317.0 713.0,1368.0 718.0,1412.0 722.5,1480.0 725.5,1521.0 728.5,1521.0 728.5,1480.0 727.0,1412.0 722.0,1368.0 715.8,1317.0 710.0,1276.0" fill="#000"/>
<path d="M713.6 1364.7 V1393.9" stroke="#000" stroke-width="1.6"/>
<path d="M715.2 1375.1 V1414.8" stroke="#000" stroke-width="1.6"/>
<path d="M722.1 1448.0 V1460.3" stroke="#000" stroke-width="1.6"/>
<path d="M714.6 1371.8 V1382.8" stroke="#000" stroke-width="1.6"/>
<path d="M713.6 1363.0 V1383.9" stroke="#000" stroke-width="1.6"/>
<path d="M715.3 1379.3 V1409.5" stroke="#000" stroke-width="1.6"/>
<path d="M705.6 1287.5 V1328.6" stroke="#000" stroke-width="1.6"/>
<path d="M715.4 1379.5 V1402.9" stroke="#000" stroke-width="1.6"/>
<path d="M713.6 1350.6 V1361.9" stroke="#000" stroke-width="1.6"/>
<path d="M724.7 1472.1 V1509.1" stroke="#000" stroke-width="1.6"/>
<path d="M722.3 1458.9 V1555.0" stroke="#000" stroke-width="1.6"/>
<path d="M716.7 1375.6 V1438.1" stroke="#000" stroke-width="1.6"/>
<path d="M707.3 1303.1 V1369.8" stroke="#000" stroke-width="1.6"/>
<path d="M704.5 1284.4 V1323.4" stroke="#000" stroke-width="1.6"/>
<path d="M704.0 1276.6 H728.4" stroke="#000" stroke-width="2.0"/>
<polygon points="728.4,1277.7 743.7,1286.0 756.5,1293.7 763.0,1302.7 763.0,1320.8 759.3,1321.1 755.7,1317.4 753.0,1317.3 750.9,1313.9 748.2,1312.2 746.6,1310.7 744.7,1311.6 741.5,1309.3 739.6,1307.8 737.8,1305.9 734.7,1303.5 731.0,1301.8 728.4,1300.0" fill="#000"/>
<path d="M733.7 1293.3 V1313.2" stroke="#000" stroke-width="1.9"/>
<path d="M738.9 1296.5 V1311.4" stroke="#000" stroke-width="2.2"/>
<path d="M745.5 1300.9 V1319.2" stroke="#000" stroke-width="1.8"/>
<path d="M749.2 1303.4 V1316.7" stroke="#000" stroke-width="2.1"/>
<path d="M753.4 1306.3 V1326.2" stroke="#000" stroke-width="1.9"/>
<path d="M760.6 1311.8 V1324.8" stroke="#000" stroke-width="1.4"/>
<polygon points="759.0,1305.0 760.5,1323.0 765.0,1350.0 769.0,1380.0 774.0,1406.0 777.5,1432.0 779.8,1480.0 785.5,1540.0 791.0,1600.0 794.0,1640.0 796.0,1668.0 800.0,1668.0 800.0,1640.0 799.0,1600.0 794.5,1540.0 789.2,1480.0 786.5,1432.0 782.0,1406.0 778.0,1380.0 772.0,1350.0 769.5,1323.0 765.0,1305.0" fill="#000"/>
<path d="M780.4 1460.0 V1481.0" stroke="#000" stroke-width="1.6"/>
<path d="M792.5 1605.6 V1618.2" stroke="#000" stroke-width="1.6"/>
<path d="M780.3 1476.5 V1484.6" stroke="#000" stroke-width="1.6"/>
<path d="M771.0 1382.9 V1398.9" stroke="#000" stroke-width="1.6"/>
<path d="M766.9 1347.9 V1371.9" stroke="#000" stroke-width="1.6"/>
<path d="M766.2 1342.7 V1362.3" stroke="#000" stroke-width="1.6"/>
<path d="M764.0 1325.5 V1338.5" stroke="#000" stroke-width="1.6"/>
<path d="M762.9 1329.1 V1355.4" stroke="#000" stroke-width="1.6"/>
<path d="M793.1 1596.6 V1613.9" stroke="#000" stroke-width="1.6"/>
<path d="M767.2 1358.9 V1385.6" stroke="#000" stroke-width="1.6"/>
<path d="M779.1 1436.3 V1463.0" stroke="#000" stroke-width="1.6"/>
<path d="M776.7 1404.1 V1436.0" stroke="#000" stroke-width="1.6"/>
<path d="M768.5 1354.6 V1363.4" stroke="#000" stroke-width="1.6"/>
<path d="M778.4 1425.1 V1438.0" stroke="#000" stroke-width="1.6"/>
<path d="M761.9 1310.7 V1318.9" stroke="#000" stroke-width="1.6"/>
<path d="M780.0 1431.3 V1442.0" stroke="#000" stroke-width="1.6"/>
<path d="M766.0 1341.6 V1362.3" stroke="#000" stroke-width="1.6"/>
<path d="M781.7 1471.3 V1482.8" stroke="#000" stroke-width="1.6"/>
<path d="M769.5 1371.4 V1380.3" stroke="#000" stroke-width="1.6"/>
<path d="M793.6 1603.3 V1633.9" stroke="#000" stroke-width="1.6"/>
<path d="M799.0 1660.0 V1698.0" stroke="#000" stroke-width="2.0"/>
<path d="M763.0 1306.5 H782.0" stroke="#444" stroke-width="3.0"/>
<path d="M782.0 1308.0 H800.6" stroke="#000" stroke-width="2.0"/>
<polygon points="800.6,1307.8 811.5,1314.0 821.7,1321.8 830.7,1332.0 830.7,1352.3 827.1,1352.2 824.4,1349.5 821.8,1345.3 820.0,1344.4 818.4,1343.9 815.1,1343.3 811.4,1341.6 809.3,1339.1 806.7,1337.4 803.9,1333.2 800.8,1332.4 800.6,1330.8" fill="#000"/>
<path d="M805.9 1325.7 V1343.3" stroke="#000" stroke-width="1.6"/>
<path d="M813.6 1332.0 V1350.3" stroke="#000" stroke-width="1.7"/>
<path d="M822.4 1336.7 V1351.4" stroke="#000" stroke-width="2.1"/>
<path d="M829.3 1343.7 V1361.4" stroke="#000" stroke-width="2.2"/>
<polygon points="829.0,1334.0 831.5,1361.0 834.0,1393.5 838.0,1431.0 842.1,1480.0 845.5,1538.0 848.5,1538.0 847.1,1480.0 846.0,1431.0 844.0,1393.5 838.5,1361.0 833.0,1334.0" fill="#000"/>
<path d="M843.4 1469.3 V1516.2" stroke="#000" stroke-width="1.6"/>
<path d="M836.0 1389.9 V1414.8" stroke="#000" stroke-width="1.6"/>
<path d="M833.5 1370.5 V1398.0" stroke="#000" stroke-width="1.6"/>
<path d="M832.2 1339.7 V1350.8" stroke="#000" stroke-width="1.6"/>
<path d="M830.0 1333.3 V1394.2" stroke="#000" stroke-width="1.6"/>
<path d="M833.7 1376.1 V1384.6" stroke="#000" stroke-width="1.6"/>
<path d="M831.4 1335.2 V1363.3" stroke="#000" stroke-width="1.6"/>
<path d="M840.8 1437.1 V1446.5" stroke="#000" stroke-width="1.6"/>
<path d="M838.1 1416.4 V1458.4" stroke="#000" stroke-width="1.6"/>
<path d="M843.4 1464.7 V1474.1" stroke="#000" stroke-width="1.6"/>
<path d="M844.4 1475.6 V1541.4" stroke="#000" stroke-width="1.6"/>
<path d="M831.1 1343.3 V1353.7" stroke="#000" stroke-width="1.6"/>
<path d="M831.6 1334.3 V1375.7" stroke="#000" stroke-width="1.6"/>
<path d="M839.8 1423.9 V1451.9" stroke="#000" stroke-width="1.6"/>
<path d="M830.0 1333.5 H847.3" stroke="#000" stroke-width="2.0"/>
<polygon points="847.0,1334.7 855.3,1341.7 869.4,1357.0 882.2,1373.7 897.5,1393.0 911.6,1412.0 916.7,1423.6 916.7,1446.9 915.0,1443.3 911.6,1438.7 909.3,1436.3 907.7,1433.1 905.5,1432.1 903.1,1426.4 899.2,1421.6 895.5,1416.8 894.0,1413.4 891.4,1411.4 889.0,1408.1 886.2,1402.1 882.5,1397.0 879.0,1393.0 877.5,1391.3 874.0,1390.8 872.5,1386.4 869.8,1384.4 867.8,1380.4 865.5,1379.0 863.3,1377.3 861.1,1371.4 857.9,1369.4 856.1,1368.2 854.4,1367.2 851.1,1363.8 848.1,1358.4 847.0,1358.0" fill="#000"/>
<path d="M848.4 1349.4 V1363.7" stroke="#000" stroke-width="2.1"/>
<path d="M849.9 1351.0 V1368.0" stroke="#000" stroke-width="2.1"/>
<path d="M853.4 1354.7 V1381.0" stroke="#000" stroke-width="1.6"/>
<path d="M856.7 1358.2 V1382.5" stroke="#000" stroke-width="2.0"/>
<path d="M860.8 1362.5 V1380.4" stroke="#000" stroke-width="1.5"/>
<path d="M865.8 1367.7 V1391.9" stroke="#000" stroke-width="1.5"/>
<path d="M869.0 1371.9 V1393.6" stroke="#000" stroke-width="1.5"/>
<path d="M872.4 1376.2 V1392.8" stroke="#000" stroke-width="1.6"/>
<path d="M875.0 1379.7 V1405.3" stroke="#000" stroke-width="1.5"/>
<path d="M877.1 1382.3 V1400.2" stroke="#000" stroke-width="1.8"/>
<path d="M879.2 1384.9 V1400.8" stroke="#000" stroke-width="2.2"/>
<path d="M883.6 1390.4 V1498.8" stroke="#000" stroke-width="1.5"/>
<path d="M886.6 1394.1 V1419.1" stroke="#000" stroke-width="2.0"/>
<path d="M889.9 1398.1 V1420.7" stroke="#000" stroke-width="1.5"/>
<path d="M892.1 1401.2 V1414.7" stroke="#000" stroke-width="1.7"/>
<path d="M896.9 1408.1 V1428.7" stroke="#000" stroke-width="1.9"/>
<path d="M900.2 1413.1 V1450.9" stroke="#000" stroke-width="1.7"/>
<path d="M904.7 1419.8 V1439.2" stroke="#000" stroke-width="1.9"/>
<path d="M909.3 1426.7 V1443.1" stroke="#000" stroke-width="2.0"/>
<path d="M914.4 1434.4 V1457.9" stroke="#000" stroke-width="2.1"/>
<path d="M916.0 1426.0 H923.0" stroke="#000" stroke-width="2.0"/>
<path d="M919.0 1428.0 V1592.0" stroke="#000" stroke-width="2.4"/>
<path d="M922.0 1428.0 V1560.0" stroke="#000" stroke-width="2.0"/>
<path d="M917.0 1440.0 V1500.0" stroke="#000" stroke-width="1.6"/>
<polygon points="923.0,1430.0 927.0,1448.0 933.5,1473.0 936.5,1499.0 938.5,1530.0 938.3,1557.0 942.0,1590.0 944.5,1617.0 947.5,1617.0 948.0,1590.0 948.3,1557.0 947.5,1530.0 945.5,1499.0 941.5,1473.0 935.0,1448.0 929.0,1430.0" fill="#000"/>
<path d="M939.9 1529.6 V1544.3" stroke="#000" stroke-width="1.6"/>
<path d="M939.2 1527.2 V1545.0" stroke="#000" stroke-width="1.6"/>
<path d="M940.4 1554.3 V1580.1" stroke="#000" stroke-width="1.6"/>
<path d="M932.3 1459.3 V1478.2" stroke="#000" stroke-width="1.6"/>
<path d="M939.8 1526.1 V1554.3" stroke="#000" stroke-width="1.6"/>
<path d="M942.8 1585.7 V1612.8" stroke="#000" stroke-width="1.6"/>
<path d="M939.6 1553.4 V1573.5" stroke="#000" stroke-width="1.6"/>
<path d="M943.3 1593.5 V1615.6" stroke="#000" stroke-width="1.6"/>
<path d="M929.3 1444.9 V1503.7" stroke="#000" stroke-width="1.6"/>
<path d="M937.9 1505.7 V1529.0" stroke="#000" stroke-width="1.6"/>
<path d="M939.4 1510.0 V1530.9" stroke="#000" stroke-width="1.6"/>
<path d="M940.6 1529.2 V1550.4" stroke="#000" stroke-width="1.6"/>
<path d="M937.8 1485.7 V1498.0" stroke="#000" stroke-width="1.6"/>
<path d="M939.7 1537.0 V1570.9" stroke="#000" stroke-width="1.6"/>
<path d="M928.6 1440.2 V1456.1" stroke="#000" stroke-width="1.6"/>
<path d="M925.5 1432.6 V1449.7" stroke="#000" stroke-width="1.6"/>
<path d="M934.6 1455.0 H948.0" stroke="#000" stroke-width="2.0"/>
<polygon points="947.5,1458.0 947.0,1480.0 951.0,1518.0 966.7,1557.0 974.5,1595.0 980.0,1646.0 982.8,1691.0 985.2,1691.0 985.0,1646.0 985.5,1595.0 978.7,1557.0 971.0,1518.0 960.0,1480.0 952.5,1458.0" fill="#000"/>
<path d="M948.8 1455.6 V1473.4" stroke="#000" stroke-width="1.6"/>
<path d="M974.6 1585.5 V1599.0" stroke="#000" stroke-width="1.6"/>
<path d="M949.9 1485.1 V1543.7" stroke="#000" stroke-width="1.6"/>
<path d="M966.2 1549.5 V1586.6" stroke="#000" stroke-width="1.6"/>
<path d="M954.5 1520.4 V1530.9" stroke="#000" stroke-width="1.6"/>
<path d="M978.2 1605.6 V1631.7" stroke="#000" stroke-width="1.6"/>
<path d="M961.9 1537.0 V1549.6" stroke="#000" stroke-width="1.6"/>
<path d="M982.1 1656.4 V1682.8" stroke="#000" stroke-width="1.6"/>
<path d="M979.5 1617.5 V1636.9" stroke="#000" stroke-width="1.6"/>
<path d="M951.1 1499.7 V1510.1" stroke="#000" stroke-width="1.6"/>
<path d="M979.0 1621.7 V1663.9" stroke="#000" stroke-width="1.6"/>
<path d="M950.2 1494.1 V1507.4" stroke="#000" stroke-width="1.6"/>
<path d="M957.4 1527.7 V1535.8" stroke="#000" stroke-width="1.6"/>
<path d="M975.4 1590.4 V1603.5" stroke="#000" stroke-width="1.6"/>
<path d="M951.1 1501.3 V1519.4" stroke="#000" stroke-width="1.6"/>
<path d="M972.6 1572.7 V1588.8" stroke="#000" stroke-width="1.6"/>
<path d="M973.6 1529.0 H985.0" stroke="#000" stroke-width="2.0"/>
<polygon points="984.0,1532.0 984.5,1557.0 988.0,1608.0 995.0,1672.0 996.8,1694.0 999.2,1694.0 999.0,1672.0 997.0,1608.0 989.5,1557.0 988.0,1532.0" fill="#000"/>
<path d="M997.9 1677.2 V1685.9" stroke="#000" stroke-width="1.6"/>
<path d="M997.4 1669.0 V1695.4" stroke="#000" stroke-width="1.6"/>
<path d="M986.4 1540.9 V1561.0" stroke="#000" stroke-width="1.6"/>
<path d="M984.6 1529.4 V1573.8" stroke="#000" stroke-width="1.6"/>
<path d="M991.9 1630.5 V1639.8" stroke="#000" stroke-width="1.6"/>
<path d="M985.2 1541.1 V1567.1" stroke="#000" stroke-width="1.6"/>
<path d="M518.0 1223.8 H1144.6" stroke="#000" stroke-width="2.4"/>
<path d="M518.0 1222.3 H833.0" stroke="#000" stroke-width="2.2"/>
<path d="M671.0 1258.8 H999.0" stroke="#000" stroke-width="2.3"/>
<path d="M671.0 1257.3 H834.0" stroke="#000" stroke-width="2.2"/>
<polygon points="998.5,1259.0 1006.0,1264.4 1016.7,1271.3 1030.5,1288.4 1038.0,1294.8 1049.7,1311.8 1059.3,1326.8 1071.0,1343.8 1075.3,1346.0 1086.0,1369.4 1093.4,1391.8 1095.5,1399.0 1095.5,1412.0 1075.0,1409.0 1070.0,1380.0 1064.6,1356.6 1054.0,1342.7 1045.4,1331.0 1030.5,1311.8 1014.5,1295.8 998.5,1282.0" fill="#000"/>
<path d="M999.5 1257.0 V1285.0" stroke="#000" stroke-width="2.4"/>
<path d="M1000.0 1277.3 V1289.1" stroke="#000" stroke-width="1.7"/>
<path d="M1003.8 1280.5 V1292.7" stroke="#000" stroke-width="1.7"/>
<path d="M1007.5 1283.8 V1307.6" stroke="#000" stroke-width="1.7"/>
<path d="M1010.7 1286.5 V1310.5" stroke="#000" stroke-width="1.7"/>
<path d="M1014.3 1289.6 V1336.9" stroke="#000" stroke-width="1.7"/>
<path d="M1017.1 1292.4 V1309.7" stroke="#000" stroke-width="1.7"/>
<path d="M1020.8 1296.1 V1310.1" stroke="#000" stroke-width="1.7"/>
<path d="M1022.9 1298.2 V1328.0" stroke="#000" stroke-width="1.7"/>
<path d="M1024.5 1299.8 V1311.6" stroke="#000" stroke-width="1.7"/>
<path d="M1027.2 1302.5 V1321.8" stroke="#000" stroke-width="1.7"/>
<path d="M1030.9 1306.3 V1376.6" stroke="#000" stroke-width="1.7"/>
<path d="M1033.6 1309.8 V1331.4" stroke="#000" stroke-width="1.7"/>
<path d="M1037.2 1314.4 V1331.4" stroke="#000" stroke-width="1.7"/>
<path d="M1041.1 1319.4 V1360.9" stroke="#000" stroke-width="1.7"/>
<path d="M1044.2 1323.4 V1362.3" stroke="#000" stroke-width="1.7"/>
<path d="M1047.4 1327.7 V1343.0" stroke="#000" stroke-width="1.7"/>
<path d="M1051.3 1333.1 V1351.3" stroke="#000" stroke-width="1.7"/>
<path d="M1055.1 1338.1 V1388.4" stroke="#000" stroke-width="1.7"/>
<path d="M1058.1 1342.1 V1417.4" stroke="#000" stroke-width="1.7"/>
<path d="M1060.6 1345.3 V1364.3" stroke="#000" stroke-width="1.7"/>
<path d="M1064.0 1349.8 V1375.8" stroke="#000" stroke-width="1.7"/>
<path d="M1066.5 1359.0 V1383.7" stroke="#000" stroke-width="1.7"/>
<path d="M1068.8 1368.7 V1385.3" stroke="#000" stroke-width="1.7"/>
<path d="M1071.5 1382.9 V1413.6" stroke="#000" stroke-width="1.7"/>
<path d="M1075.5 1403.1 V1427.1" stroke="#000" stroke-width="1.7"/>
<path d="M1077.8 1403.4 V1421.9" stroke="#000" stroke-width="1.7"/>
<path d="M1080.8 1403.8 V1427.7" stroke="#000" stroke-width="1.7"/>
<path d="M1082.4 1404.1 V1429.9" stroke="#000" stroke-width="1.7"/>
<path d="M1085.2 1404.5 V1423.0" stroke="#000" stroke-width="1.7"/>
<path d="M1086.7 1404.7 V1499.8" stroke="#000" stroke-width="1.7"/>
<path d="M1089.8 1405.2 V1429.2" stroke="#000" stroke-width="1.7"/>
<polygon points="1089.5,1400.0 1098.5,1430.0 1106.0,1459.0 1113.0,1500.0 1117.0,1527.0 1121.0,1580.0 1122.0,1651.0 1125.0,1651.0 1125.0,1580.0 1122.0,1527.0 1119.0,1500.0 1113.0,1459.0 1106.5,1430.0 1096.5,1400.0" fill="#000"/>
<path d="M1116.2 1506.2 V1529.9" stroke="#000" stroke-width="1.6"/>
<path d="M1118.1 1518.8 V1545.1" stroke="#000" stroke-width="1.6"/>
<path d="M1101.6 1431.0 V1448.8" stroke="#000" stroke-width="1.6"/>
<path d="M1118.5 1534.1 V1545.3" stroke="#000" stroke-width="1.6"/>
<path d="M1093.4 1402.1 V1449.4" stroke="#000" stroke-width="1.6"/>
<path d="M1116.7 1512.7 V1548.4" stroke="#000" stroke-width="1.6"/>
<path d="M1120.0 1541.1 V1553.9" stroke="#000" stroke-width="1.6"/>
<path d="M1104.8 1445.4 V1459.5" stroke="#000" stroke-width="1.6"/>
<path d="M1110.4 1470.5 V1521.9" stroke="#000" stroke-width="1.6"/>
<path d="M1093.8 1405.0 V1413.7" stroke="#000" stroke-width="1.6"/>
<path d="M1097.5 1415.7 V1437.4" stroke="#000" stroke-width="1.6"/>
<path d="M1122.5 1581.0 V1589.3" stroke="#000" stroke-width="1.6"/>
<path d="M1108.6 1460.6 V1513.0" stroke="#000" stroke-width="1.6"/>
<path d="M1122.9 1605.4 V1621.9" stroke="#000" stroke-width="1.6"/>
<path d="M1094.0 1405.0 H1127.0" stroke="#000" stroke-width="2.0"/>
<polygon points="1125.0,1405.0 1129.5,1440.0 1134.0,1480.0 1138.0,1532.0 1140.0,1600.0 1140.2,1633.0 1142.8,1633.0 1143.0,1600.0 1143.0,1532.0 1139.0,1480.0 1134.5,1440.0 1128.0,1405.0" fill="#000"/>
<path d="M1128.9 1417.4 V1428.8" stroke="#000" stroke-width="1.6"/>
<path d="M1128.7 1425.4 V1433.5" stroke="#000" stroke-width="1.6"/>
<path d="M1139.0 1537.9 V1593.4" stroke="#000" stroke-width="1.6"/>
<path d="M1129.1 1415.2 V1425.1" stroke="#000" stroke-width="1.6"/>
<path d="M1127.3 1403.9 V1415.7" stroke="#000" stroke-width="1.6"/>
<path d="M1139.6 1553.5 V1562.2" stroke="#000" stroke-width="1.6"/>
<path d="M1141.0 1566.1 V1601.2" stroke="#000" stroke-width="1.6"/>
<path d="M1139.4 1552.3 V1574.1" stroke="#000" stroke-width="1.6"/>
<path d="M1145.5 1222.5 V1300.0" stroke="#000" stroke-width="3.0"/>
<polygon points="1144.6,1224.0 1156.8,1233.6 1166.4,1246.4 1173.0,1248.0 1173.0,1288.3 1170.3,1290.9 1168.2,1290.6 1164.9,1274.1 1163.4,1283.7 1159.8,1273.3 1157.6,1284.5 1155.6,1287.2 1152.9,1275.3 1150.5,1284.3 1147.9,1286.8 1146.1,1289.3 1144.6,1285.0" fill="#000"/>
<path d="M1146.0 1274.5 V1304.2" stroke="#000" stroke-width="1.7"/>
<path d="M1149.0 1273.6 V1316.0" stroke="#000" stroke-width="1.9"/>
<path d="M1150.6 1273.0 V1447.2" stroke="#000" stroke-width="2.0"/>
<path d="M1153.7 1272.0 V1323.9" stroke="#000" stroke-width="2.2"/>
<path d="M1156.8 1271.1 V1296.9" stroke="#000" stroke-width="1.7"/>
<path d="M1160.0 1270.0 V1309.0" stroke="#000" stroke-width="1.9"/>
<path d="M1163.2 1271.2 V1296.2" stroke="#000" stroke-width="1.4"/>
<path d="M1164.8 1271.9 V1307.4" stroke="#000" stroke-width="2.1"/>
<path d="M1168.0 1273.1 V1363.7" stroke="#000" stroke-width="2.0"/>
<path d="M1171.2 1274.3 V1298.9" stroke="#000" stroke-width="2.1"/>
<polygon points="1171.5,1250.0 1175.0,1290.0 1179.5,1344.0 1183.5,1404.0 1187.0,1470.0 1189.5,1490.0 1194.5,1490.0 1196.0,1470.0 1194.5,1404.0 1190.5,1344.0 1184.0,1290.0 1178.5,1250.0" fill="#000"/>
<path d="M1186.4 1409.9 V1423.8" stroke="#000" stroke-width="1.6"/>
<path d="M1174.5 1261.7 V1292.0" stroke="#000" stroke-width="1.6"/>
<path d="M1176.7 1282.9 V1328.5" stroke="#000" stroke-width="1.6"/>
<path d="M1177.1 1290.1 V1314.0" stroke="#000" stroke-width="1.6"/>
<path d="M1181.0 1348.4 V1360.5" stroke="#000" stroke-width="1.6"/>
<path d="M1187.2 1430.0 V1446.7" stroke="#000" stroke-width="1.6"/>
<path d="M1175.0 1262.1 V1290.8" stroke="#000" stroke-width="1.6"/>
<path d="M1177.0 1289.8 V1329.7" stroke="#000" stroke-width="1.6"/>
<path d="M1188.7 1467.4 V1484.5" stroke="#000" stroke-width="1.6"/>
<path d="M1183.2 1382.7 V1393.6" stroke="#000" stroke-width="1.6"/>
<path d="M1176.3 1279.2 V1293.6" stroke="#000" stroke-width="1.6"/>
<path d="M1183.2 1375.8 V1394.0" stroke="#000" stroke-width="1.6"/>
<path d="M1174.5 1273.4 V1363.4" stroke="#000" stroke-width="1.6"/>
<path d="M1179.0 1324.9 V1346.9" stroke="#000" stroke-width="1.6"/>
<path d="M1186.5 1441.0 V1461.8" stroke="#000" stroke-width="1.6"/>
<path d="M1179.2 1317.7 V1326.0" stroke="#000" stroke-width="1.6"/>
<path d="M1174.5 1252.2 V1288.3" stroke="#000" stroke-width="1.6"/>
<path d="M1182.1 1354.2 V1366.5" stroke="#000" stroke-width="1.6"/>
<path d="M1186.9 1438.6 V1487.6" stroke="#000" stroke-width="1.6"/>
<path d="M1187.5 1434.9 V1489.3" stroke="#000" stroke-width="1.6"/>
<path d="M1176.3 1295.1 V1306.2" stroke="#000" stroke-width="1.6"/>
<path d="M1175.1 1279.3 V1288.0" stroke="#000" stroke-width="1.6"/>
<path d="M1178.0 1271.5 H1188.0" stroke="#000" stroke-width="2.0"/>
<path d="M1188.0 1275.5 H1196.0" stroke="#000" stroke-width="2.0"/>
<polygon points="1195.5,1276.0 1197.0,1300.0 1200.0,1340.0 1204.5,1400.0 1207.5,1460.0 1209.0,1476.0 1212.0,1476.0 1213.5,1460.0 1212.5,1400.0 1207.0,1340.0 1203.0,1300.0 1198.5,1276.0" fill="#000"/>
<path d="M1204.8 1369.8 V1386.4" stroke="#000" stroke-width="1.6"/>
<path d="M1210.4 1461.7 V1470.6" stroke="#000" stroke-width="1.6"/>
<path d="M1204.7 1381.1 V1390.9" stroke="#000" stroke-width="1.6"/>
<path d="M1209.1 1462.6 V1482.2" stroke="#000" stroke-width="1.6"/>
<path d="M1206.7 1392.8 V1416.3" stroke="#000" stroke-width="1.6"/>
<path d="M1200.8 1328.3 V1338.8" stroke="#000" stroke-width="1.6"/>
<path d="M1210.6 1463.1 V1474.6" stroke="#000" stroke-width="1.6"/>
<path d="M1196.8 1276.3 V1290.3" stroke="#000" stroke-width="1.6"/>
<path d="M1210.0 1458.4 V1491.9" stroke="#000" stroke-width="1.6"/>
<path d="M1197.9 1277.2 V1302.5" stroke="#000" stroke-width="1.6"/>
<path d="M1206.9 1394.5 V1403.3" stroke="#000" stroke-width="1.6"/>
<path d="M1198.5 1288.0 V1335.2" stroke="#000" stroke-width="1.6"/>
<path d="M1205.9 1402.8 V1423.4" stroke="#000" stroke-width="1.6"/>
<path d="M1206.7 1425.2 V1438.7" stroke="#000" stroke-width="1.6"/>
<path d="M1145.6 1270.0 V1315.0" stroke="#000" stroke-width="2.2"/>
<path d="M1148.0 1270.0 V1383.0" stroke="#000" stroke-width="2.2"/>
<path d="M1153.6 1270.0 V1337.5" stroke="#000" stroke-width="2.2"/>
<path d="M1156.8 1270.0 V1310.0" stroke="#000" stroke-width="2.2"/>
<path d="M1160.8 1270.0 V1321.5" stroke="#000" stroke-width="2.2"/>
<path d="M1167.0 1270.0 V1376.0" stroke="#000" stroke-width="2.2"/>
<path d="M1170.4 1270.0 V1392.0" stroke="#000" stroke-width="2.2"/>
<path d="M280.3 1250.0 V1278.0" stroke="#000" stroke-width="2.0"/>
<path d="M285.9 1250.0 V1323.0" stroke="#000" stroke-width="2.0"/>
<path d="M289.6 1250.0 V1661.0" stroke="#000" stroke-width="2.0"/>
<path d="M293.2 1250.0 V1398.0" stroke="#000" stroke-width="2.0"/>
<path d="M294.5 1250.0 V1816.0" stroke="#000" stroke-width="2.0"/>
<path d="M297.0 1250.0 V1789.0" stroke="#000" stroke-width="2.0"/>
<path d="M298.9 1250.0 V1381.0" stroke="#000" stroke-width="2.0"/>
<path d="M304.2 1250.0 V1340.0" stroke="#000" stroke-width="2.0"/>
<path d="M306.0 1250.0 V1790.0" stroke="#000" stroke-width="2.0"/>
<path d="M314.7 1250.0 V1362.0" stroke="#000" stroke-width="2.0"/>
<path d="M317.7 1250.0 V1312.0" stroke="#000" stroke-width="2.0"/>
<path d="M323.4 1250.0 V1984.0" stroke="#000" stroke-width="2.0"/>
<path d="M327.5 1250.0 V1439.0" stroke="#000" stroke-width="2.0"/>
<path d="M335.7 1250.0 V1789.0" stroke="#000" stroke-width="2.0"/>
<path d="M337.2 1250.0 V1376.0" stroke="#000" stroke-width="2.0"/>
<path d="M349.0 1250.0 V1670.0" stroke="#000" stroke-width="2.0"/>
<path d="M376.8 1250.0 V1317.0" stroke="#000" stroke-width="2.0"/>
<path d="M383.0 1250.0 V1378.0" stroke="#000" stroke-width="2.0"/>
<path d="M387.4 1250.0 V1376.0" stroke="#000" stroke-width="2.0"/>
<path d="M398.0 1250.0 V1748.0" stroke="#000" stroke-width="2.0"/>
<path d="M405.7 1250.0 V1322.0" stroke="#000" stroke-width="2.0"/>
<path d="M413.0 1250.0 V1522.0" stroke="#000" stroke-width="2.0"/>
<path d="M420.4 1250.0 V1302.0" stroke="#000" stroke-width="2.0"/>
<path d="M429.0 1250.0 V1503.0" stroke="#000" stroke-width="2.0"/>
<path d="M441.1 1250.0 V1443.0" stroke="#000" stroke-width="2.0"/>
<path d="M479.0 1255.0 V1345.0" stroke="#000" stroke-width="2.0"/>
<path d="M487.6 1255.0 V1368.0" stroke="#000" stroke-width="2.0"/>
<path d="M496.0 1255.0 V1343.0" stroke="#000" stroke-width="2.0"/>
<path d="M521.8 1255.0 V1318.0" stroke="#000" stroke-width="2.0"/>
<path d="M546.3 1255.0 V1317.0" stroke="#000" stroke-width="2.0"/>
<path d="M557.3 1255.0 V1339.0" stroke="#000" stroke-width="2.0"/>
<path d="M567.0 1255.0 V1272.0" stroke="#000" stroke-width="2.0"/>
<path d="M642.8 1262.0 V1302.0" stroke="#000" stroke-width="2.0"/>
<path d="M678.3 1275.0 V1316.0" stroke="#000" stroke-width="2.0"/>
<path d="M708.0 1300.0 V1354.0" stroke="#000" stroke-width="2.0"/>
<path d="M713.0 1330.0 V1383.0" stroke="#000" stroke-width="2.0"/>
<path d="M719.4 1380.0 V1414.0" stroke="#000" stroke-width="2.0"/>
<path d="M723.0 1420.0 V1462.0" stroke="#000" stroke-width="2.0"/>
<path d="M805.7 1330.0 V1368.0" stroke="#000" stroke-width="2.0"/>
<path d="M809.0 1332.0 V1427.0" stroke="#000" stroke-width="2.0"/>
<path d="M832.0 1360.0 V1457.0" stroke="#000" stroke-width="2.0"/>
<path d="M854.3 1360.0 V1439.5" stroke="#000" stroke-width="2.0"/>
<path d="M880.6 1385.0 V1408.0" stroke="#000" stroke-width="2.0"/>
<path d="M886.7 1390.0 V1432.0" stroke="#000" stroke-width="2.0"/>
<path d="M892.8 1400.0 V1474.0" stroke="#000" stroke-width="2.0"/>
<path d="M897.7 1405.0 V1437.0" stroke="#000" stroke-width="2.0"/>
<path d="M906.0 1420.0 V1471.0" stroke="#000" stroke-width="2.0"/>
<path d="M927.0 1450.0 V1527.0" stroke="#000" stroke-width="2.0"/>
<path d="M946.6 1490.0 V1617.0" stroke="#000" stroke-width="2.0"/>
<path d="M955.0 1510.0 V1551.0" stroke="#000" stroke-width="2.0"/>
<path d="M962.5 1530.0 V1571.0" stroke="#000" stroke-width="2.0"/>
<path d="M1006.5 1290.0 V1420.0" stroke="#000" stroke-width="2.0"/>
<path d="M1009.0 1290.0 V1389.0" stroke="#000" stroke-width="2.0"/>
<path d="M1015.6 1300.0 V1380.0" stroke="#000" stroke-width="2.0"/>
<path d="M1018.0 1300.0 V1344.0" stroke="#000" stroke-width="2.0"/>
<path d="M1032.0 1315.0 V1415.0" stroke="#000" stroke-width="2.0"/>
<path d="M1034.0 1315.0 V1326.0" stroke="#000" stroke-width="2.0"/>
<path d="M1038.3 1330.0 V1348.0" stroke="#000" stroke-width="2.0"/>
<path d="M1045.0 1335.0 V1357.0" stroke="#000" stroke-width="2.0"/>
<path d="M1050.0 1340.0 V1371.0" stroke="#000" stroke-width="2.0"/>
<path d="M1054.5 1345.0 V1411.0" stroke="#000" stroke-width="2.0"/>
<path d="M1057.0 1350.0 V1362.0" stroke="#000" stroke-width="2.0"/>
<path d="M1060.0 1355.0 V1397.0" stroke="#000" stroke-width="2.0"/>
<path d="M1066.4 1375.0 V1459.0" stroke="#000" stroke-width="2.0"/>
<path d="M1073.7 1385.0 V1485.0" stroke="#000" stroke-width="2.0"/>
<path d="M1083.5 1395.0 V1452.0" stroke="#000" stroke-width="2.0"/>
<path d="M1097.0 1410.0 V1521.0" stroke="#000" stroke-width="2.0"/>
<path d="M1110.4 1440.0 V1564.0" stroke="#000" stroke-width="2.0"/>
<path d="M1128.8 1420.0 V1527.0" stroke="#000" stroke-width="2.0"/>
<path d="M1184.0 1330.0 V1420.0" stroke="#000" stroke-width="2.0"/>
<path d="M1201.0 1340.0 V1420.0" stroke="#000" stroke-width="2.0"/>
<path d="M1207.0 1380.0 V1474.0" stroke="#000" stroke-width="2.0"/></g>
<rect x="277.00" y="2045.0" width="49.00" height="194.5" fill="#bebebe"/><rect x="283.38" y="2045.0" width="1.19" height="194.5" fill="#c3b3b7"/><rect x="285.73" y="2045.0" width="0.66" height="194.5" fill="#a9b8c8"/><rect x="288.85" y="2045.0" width="0.70" height="194.5" fill="#e4cc77"/><rect x="294.19" y="2045.0" width="0.73" height="194.5" fill="#dcba99"/><rect x="294.92" y="2045.0" width="0.61" height="194.5" fill="#e6cd72"/><rect x="296.99" y="2045.0" width="0.50" height="194.5" fill="#deb996"/><rect x="299.54" y="2045.0" width="1.28" height="194.5" fill="#e1b992"/><rect x="301.33" y="2045.0" width="1.42" height="194.5" fill="#d7b1a2"/><rect x="303.99" y="2045.0" width="0.95" height="194.5" fill="#ceb5ac"/><rect x="308.73" y="2045.0" width="1.50" height="194.5" fill="#f18c7f"/><rect x="312.18" y="2045.0" width="0.71" height="194.5" fill="#b4bfb4"/><rect x="314.23" y="2045.0" width="0.57" height="194.5" fill="#d5b2a4"/><rect x="317.84" y="2045.0" width="1.37" height="194.5" fill="#f38a7c"/><rect x="319.93" y="2045.0" width="1.23" height="194.5" fill="#ccb7ae"/><rect x="323.24" y="2045.0" width="0.92" height="194.5" fill="#ddba97"/>
<rect x="326.00" y="2045.0" width="126.00" height="194.5" fill="#adb2b2"/><rect x="327.18" y="2045.0" width="1.77" height="194.5" fill="#6fa0b6"/><rect x="328.95" y="2045.0" width="1.61" height="194.5" fill="#9d9d9d"/><rect x="332.24" y="2045.0" width="0.59" height="194.5" fill="#99d205"/><rect x="332.83" y="2045.0" width="0.73" height="194.5" fill="#f5e607"/><rect x="333.56" y="2045.0" width="0.68" height="194.5" fill="#d174ab"/><rect x="334.24" y="2045.0" width="1.40" height="194.5" fill="#e4da2f"/><rect x="335.64" y="2045.0" width="1.70" height="194.5" fill="#cadede"/><rect x="337.34" y="2045.0" width="1.75" height="194.5" fill="#d54040"/><rect x="339.09" y="2045.0" width="1.45" height="194.5" fill="#de2525"/><rect x="344.84" y="2045.0" width="1.69" height="194.5" fill="#7ca4b6"/><rect x="346.53" y="2045.0" width="1.63" height="194.5" fill="#43b645"/><rect x="349.41" y="2045.0" width="1.00" height="194.5" fill="#de2525"/><rect x="354.38" y="2045.0" width="1.26" height="194.5" fill="#d44242"/><rect x="355.64" y="2045.0" width="1.17" height="194.5" fill="#d54040"/><rect x="357.61" y="2045.0" width="1.15" height="194.5" fill="#649db7"/><rect x="358.75" y="2045.0" width="0.51" height="194.5" fill="#28bebe"/><rect x="359.27" y="2045.0" width="1.48" height="194.5" fill="#27c3d6"/><rect x="360.75" y="2045.0" width="0.81" height="194.5" fill="#9d9d9d"/><rect x="364.31" y="2045.0" width="1.00" height="194.5" fill="#db62a9"/><rect x="365.31" y="2045.0" width="0.67" height="194.5" fill="#e39085"/><rect x="365.98" y="2045.0" width="1.74" height="194.5" fill="#51cd84"/><rect x="368.83" y="2045.0" width="1.58" height="194.5" fill="#73a1b6"/><rect x="371.84" y="2045.0" width="1.31" height="194.5" fill="#f38678"/><rect x="374.44" y="2045.0" width="0.87" height="194.5" fill="#32b733"/><rect x="375.31" y="2045.0" width="1.03" height="194.5" fill="#9d9d9d"/><rect x="376.34" y="2045.0" width="0.68" height="194.5" fill="#dcb792"/><rect x="379.89" y="2045.0" width="1.39" height="194.5" fill="#649db7"/><rect x="382.71" y="2045.0" width="1.20" height="194.5" fill="#9bcf16"/><rect x="384.85" y="2045.0" width="1.18" height="194.5" fill="#5dc98a"/><rect x="388.17" y="2045.0" width="1.44" height="194.5" fill="#0fc6dc"/><rect x="389.61" y="2045.0" width="1.65" height="194.5" fill="#d56caa"/><rect x="391.26" y="2045.0" width="1.35" height="194.5" fill="#e2b78e"/><rect x="394.28" y="2045.0" width="1.77" height="194.5" fill="#da64a9"/><rect x="396.05" y="2045.0" width="1.43" height="194.5" fill="#df2222"/><rect x="397.48" y="2045.0" width="0.94" height="194.5" fill="#9fa0a0"/><rect x="399.55" y="2045.0" width="0.72" height="194.5" fill="#e8dd26"/><rect x="405.57" y="2045.0" width="1.49" height="194.5" fill="#4182b5"/><rect x="407.06" y="2045.0" width="1.23" height="194.5" fill="#9e9e9e"/><rect x="409.28" y="2045.0" width="1.67" height="194.5" fill="#d7d04e"/><rect x="410.95" y="2045.0" width="1.18" height="194.5" fill="#20bfbf"/><rect x="412.14" y="2045.0" width="0.65" height="194.5" fill="#8e45a0"/><rect x="412.78" y="2045.0" width="1.76" height="194.5" fill="#965fa4"/><rect x="414.54" y="2045.0" width="1.79" height="194.5" fill="#d04d4d"/><rect x="416.33" y="2045.0" width="0.59" height="194.5" fill="#c95b5e"/><rect x="416.92" y="2045.0" width="1.54" height="194.5" fill="#9ccc26"/><rect x="418.46" y="2045.0" width="0.67" height="194.5" fill="#6ea0b7"/><rect x="419.12" y="2045.0" width="0.64" height="194.5" fill="#48b64a"/><rect x="420.43" y="2045.0" width="0.53" height="194.5" fill="#98d301"/><rect x="421.83" y="2045.0" width="0.82" height="194.5" fill="#75a2b6"/><rect x="422.65" y="2045.0" width="0.66" height="194.5" fill="#a1a2a2"/><rect x="425.25" y="2045.0" width="1.57" height="194.5" fill="#43bcbc"/><rect x="426.82" y="2045.0" width="1.19" height="194.5" fill="#42bcbc"/><rect x="431.67" y="2045.0" width="0.91" height="194.5" fill="#11c0c0"/><rect x="434.38" y="2045.0" width="0.67" height="194.5" fill="#da3131"/><rect x="436.72" y="2045.0" width="0.66" height="194.5" fill="#07b908"/><rect x="437.39" y="2045.0" width="1.24" height="194.5" fill="#d6efef"/><rect x="440.94" y="2045.0" width="0.75" height="194.5" fill="#e7b88a"/><rect x="441.69" y="2045.0" width="1.49" height="194.5" fill="#5f9cb8"/><rect x="443.18" y="2045.0" width="0.74" height="194.5" fill="#77c297"/><rect x="443.92" y="2045.0" width="1.70" height="194.5" fill="#f88374"/><rect x="445.62" y="2045.0" width="1.39" height="194.5" fill="#dfb790"/><rect x="447.01" y="2045.0" width="1.11" height="194.5" fill="#d82c30"/><rect x="449.10" y="2045.0" width="0.55" height="194.5" fill="#d23c3f"/><rect x="449.65" y="2045.0" width="1.46" height="194.5" fill="#2fbebe"/><rect x="451.74" y="2045.0" width="0.26" height="194.5" fill="#9660a5"/>
<rect x="452.00" y="2045.0" width="6.20" height="194.5" fill="#3aa0b0"/><rect x="452.00" y="2045.0" width="0.91" height="194.5" fill="#10b8bd"/><rect x="455.71" y="2045.0" width="1.90" height="194.5" fill="#12b8bc"/>
<rect x="458.20" y="2045.0" width="16.30" height="194.5" fill="#00c8e0"/>
<rect x="474.50" y="2045.0" width="17.50" height="194.5" fill="#10a8c0"/><rect x="474.50" y="2045.0" width="1.82" height="194.5" fill="#989b9c"/><rect x="476.32" y="2045.0" width="1.15" height="194.5" fill="#057bb9"/><rect x="479.66" y="2045.0" width="0.68" height="194.5" fill="#e18579"/><rect x="480.34" y="2045.0" width="1.66" height="194.5" fill="#ac6263"/><rect x="481.99" y="2045.0" width="1.42" height="194.5" fill="#799ea4"/><rect x="485.87" y="2045.0" width="1.78" height="194.5" fill="#03bdc2"/><rect x="489.47" y="2045.0" width="0.62" height="194.5" fill="#b28d89"/><rect x="490.09" y="2045.0" width="1.48" height="194.5" fill="#906e73"/>
<rect x="492.00" y="2045.0" width="83.30" height="194.5" fill="#00bcc4"/><rect x="492.00" y="2045.0" width="2.62" height="194.5" fill="#0ca6c1"/><rect x="494.62" y="2045.0" width="2.88" height="194.5" fill="#0baec7"/><rect x="497.50" y="2045.0" width="2.08" height="194.5" fill="#15a9ac"/><rect x="499.58" y="2045.0" width="1.84" height="194.5" fill="#00c1c2"/><rect x="502.99" y="2045.0" width="2.12" height="194.5" fill="#00c2c2"/><rect x="505.11" y="2045.0" width="2.54" height="194.5" fill="#0eabc7"/><rect x="507.66" y="2045.0" width="2.37" height="194.5" fill="#00c0c3"/><rect x="511.13" y="2045.0" width="2.89" height="194.5" fill="#0eabc7"/><rect x="515.97" y="2045.0" width="1.49" height="194.5" fill="#1ea1a2"/><rect x="517.46" y="2045.0" width="2.92" height="194.5" fill="#0ea2c0"/><rect x="520.38" y="2045.0" width="1.83" height="194.5" fill="#0ca5c0"/><rect x="522.21" y="2045.0" width="1.31" height="194.5" fill="#0cadc7"/><rect x="523.52" y="2045.0" width="1.91" height="194.5" fill="#1ca4a5"/><rect x="527.92" y="2045.0" width="1.27" height="194.5" fill="#0faac8"/><rect x="532.99" y="2045.0" width="1.72" height="194.5" fill="#0cacc7"/><rect x="534.71" y="2045.0" width="2.51" height="194.5" fill="#0dacc7"/><rect x="537.22" y="2045.0" width="2.31" height="194.5" fill="#0ba8c1"/><rect x="539.52" y="2045.0" width="1.02" height="194.5" fill="#0ba8c1"/><rect x="540.54" y="2045.0" width="1.20" height="194.5" fill="#0aa9c1"/><rect x="541.75" y="2045.0" width="2.83" height="194.5" fill="#0cacc7"/><rect x="544.57" y="2045.0" width="1.75" height="194.5" fill="#0eaac8"/><rect x="546.32" y="2045.0" width="1.99" height="194.5" fill="#0aa9c1"/><rect x="554.77" y="2045.0" width="1.78" height="194.5" fill="#0cadc7"/><rect x="556.55" y="2045.0" width="2.98" height="194.5" fill="#0eabc7"/><rect x="559.53" y="2045.0" width="1.74" height="194.5" fill="#00c2c2"/><rect x="561.26" y="2045.0" width="1.17" height="194.5" fill="#17a8aa"/><rect x="564.36" y="2045.0" width="1.02" height="194.5" fill="#0ba8c1"/><rect x="572.11" y="2045.0" width="1.64" height="194.5" fill="#00c1c2"/><rect x="573.76" y="2045.0" width="1.54" height="194.5" fill="#00c2c2"/>
<rect x="575.30" y="2045.0" width="6.70" height="194.5" fill="#0062b6"/>
<rect x="582.00" y="2045.0" width="10.00" height="194.5" fill="#00c2c2"/>
<rect x="592.00" y="2045.0" width="16.60" height="194.5" fill="#00c2a0"/><rect x="594.15" y="2045.0" width="1.43" height="194.5" fill="#20c061"/><rect x="595.57" y="2045.0" width="1.68" height="194.5" fill="#00bb29"/><rect x="597.26" y="2045.0" width="1.19" height="194.5" fill="#00bc2f"/><rect x="598.45" y="2045.0" width="1.50" height="194.5" fill="#16c174"/><rect x="599.95" y="2045.0" width="1.05" height="194.5" fill="#00c2c1"/><rect x="601.00" y="2045.0" width="0.85" height="194.5" fill="#00bb24"/><rect x="601.85" y="2045.0" width="1.89" height="194.5" fill="#00c2be"/><rect x="603.74" y="2045.0" width="1.47" height="194.5" fill="#18c171"/><rect x="605.21" y="2045.0" width="2.04" height="194.5" fill="#00c2ba"/>
<rect x="608.60" y="2045.0" width="16.40" height="194.5" fill="#00b900"/>
<rect x="625.00" y="2045.0" width="290.70" height="194.5" fill="#00c2c2"/>
<rect x="915.70" y="2045.0" width="5.30" height="194.5" fill="#0049a6"/>
<rect x="921.00" y="2045.0" width="77.00" height="194.5" fill="#00c2c2"/>
<rect x="998.00" y="2045.0" width="94.00" height="194.5" fill="#1a8ea6"/><rect x="999.38" y="2045.0" width="1.14" height="194.5" fill="#7d6e84"/><rect x="1000.52" y="2045.0" width="2.15" height="194.5" fill="#0d82ae"/><rect x="1002.67" y="2045.0" width="1.89" height="194.5" fill="#806f76"/><rect x="1011.40" y="2045.0" width="1.62" height="194.5" fill="#00c0c8"/><rect x="1013.80" y="2045.0" width="2.06" height="194.5" fill="#198fa7"/><rect x="1015.86" y="2045.0" width="1.20" height="194.5" fill="#1890a8"/><rect x="1017.06" y="2045.0" width="1.45" height="194.5" fill="#04b8c2"/><rect x="1018.51" y="2045.0" width="1.77" height="194.5" fill="#198fa7"/><rect x="1020.28" y="2045.0" width="0.89" height="194.5" fill="#0a80b0"/><rect x="1022.53" y="2045.0" width="1.10" height="194.5" fill="#816d83"/><rect x="1023.63" y="2045.0" width="0.98" height="194.5" fill="#95686c"/><rect x="1027.16" y="2045.0" width="2.10" height="194.5" fill="#97686c"/><rect x="1030.28" y="2045.0" width="2.06" height="194.5" fill="#876c73"/><rect x="1033.09" y="2045.0" width="1.24" height="194.5" fill="#198fa7"/><rect x="1034.33" y="2045.0" width="1.22" height="194.5" fill="#876c73"/><rect x="1035.54" y="2045.0" width="1.86" height="194.5" fill="#198fa7"/><rect x="1039.40" y="2045.0" width="1.32" height="194.5" fill="#0d83ae"/><rect x="1040.72" y="2045.0" width="0.85" height="194.5" fill="#846c82"/><rect x="1043.63" y="2045.0" width="0.81" height="194.5" fill="#a26467"/><rect x="1044.44" y="2045.0" width="1.46" height="194.5" fill="#1890a8"/><rect x="1047.81" y="2045.0" width="1.92" height="194.5" fill="#727288"/><rect x="1051.17" y="2045.0" width="1.71" height="194.5" fill="#05b6c1"/><rect x="1052.88" y="2045.0" width="1.97" height="194.5" fill="#1890a8"/><rect x="1054.85" y="2045.0" width="2.07" height="194.5" fill="#0b81af"/><rect x="1056.92" y="2045.0" width="1.47" height="194.5" fill="#198fa7"/><rect x="1058.38" y="2045.0" width="2.14" height="194.5" fill="#0a80b0"/><rect x="1060.53" y="2045.0" width="1.09" height="194.5" fill="#01bfc7"/><rect x="1061.62" y="2045.0" width="0.72" height="194.5" fill="#04b9c3"/><rect x="1063.67" y="2045.0" width="1.93" height="194.5" fill="#08b1be"/><rect x="1065.60" y="2045.0" width="1.74" height="194.5" fill="#747188"/><rect x="1067.34" y="2045.0" width="1.33" height="194.5" fill="#02bcc6"/><rect x="1068.67" y="2045.0" width="1.59" height="194.5" fill="#0f85ad"/><rect x="1072.06" y="2045.0" width="1.81" height="194.5" fill="#02bcc5"/><rect x="1073.87" y="2045.0" width="0.92" height="194.5" fill="#7e6e84"/><rect x="1074.79" y="2045.0" width="1.04" height="194.5" fill="#03bac4"/><rect x="1075.82" y="2045.0" width="1.92" height="194.5" fill="#1890a8"/><rect x="1077.75" y="2045.0" width="0.81" height="194.5" fill="#1890a8"/><rect x="1079.80" y="2045.0" width="1.55" height="194.5" fill="#1890a8"/><rect x="1081.35" y="2045.0" width="2.18" height="194.5" fill="#03bac4"/><rect x="1085.45" y="2045.0" width="0.82" height="194.5" fill="#198fa7"/><rect x="1086.27" y="2045.0" width="1.22" height="194.5" fill="#0d83ae"/><rect x="1087.49" y="2045.0" width="1.76" height="194.5" fill="#64768d"/><rect x="1089.25" y="2045.0" width="1.86" height="194.5" fill="#94696d"/><rect x="1091.11" y="2045.0" width="0.89" height="194.5" fill="#707289"/>
<rect x="1012.50" y="2045.0" width="3.00" height="194.5" fill="#e02020"/>
<rect x="1092.00" y="2045.0" width="34.00" height="194.5" fill="#dc1e1e"/>
<rect x="1126.00" y="2045.0" width="18.00" height="194.5" fill="#004ca6"/>
<rect x="1144.00" y="2045.0" width="21.00" height="194.5" fill="#50b8a0"/><rect x="1144.00" y="2045.0" width="0.77" height="194.5" fill="#e98776"/><rect x="1144.77" y="2045.0" width="1.07" height="194.5" fill="#4ccd84"/><rect x="1147.67" y="2045.0" width="1.48" height="194.5" fill="#de8a79"/><rect x="1149.14" y="2045.0" width="1.52" height="194.5" fill="#c19481"/><rect x="1152.39" y="2045.0" width="1.51" height="194.5" fill="#4ccc84"/><rect x="1153.90" y="2045.0" width="0.73" height="194.5" fill="#e48877"/><rect x="1154.63" y="2045.0" width="1.13" height="194.5" fill="#07c1bf"/><rect x="1155.77" y="2045.0" width="2.01" height="194.5" fill="#4ccd83"/><rect x="1157.78" y="2045.0" width="2.05" height="194.5" fill="#f98171"/><rect x="1159.83" y="2045.0" width="2.06" height="194.5" fill="#4dc68c"/><rect x="1161.89" y="2045.0" width="1.91" height="194.5" fill="#1ab934"/><rect x="1163.80" y="2045.0" width="0.61" height="194.5" fill="#07c1bf"/>
<rect x="1165.00" y="2045.0" width="5.60" height="194.5" fill="#ff0a17"/>
<rect x="1170.60" y="2045.0" width="6.80" height="194.5" fill="#d8a070"/><rect x="1170.60" y="2045.0" width="0.90" height="194.5" fill="#e5b486"/>
<rect x="1177.40" y="2045.0" width="17.30" height="194.5" fill="#f8e800"/>
<rect x="1194.70" y="2045.0" width="18.80" height="194.5" fill="#ff0a17"/>
<path d="M277 2044 H1214" stroke="#000" stroke-width="2.6"/>
<path d="M277 2240.3 H1214" stroke="#000" stroke-width="2.6"/>
<text transform="translate(1191,1139.5) scale(1.15,1)" x="0" y="0" font-family="Liberation Serif, serif" font-size="86" fill="#111">C</text>
<text x="1600.5" y="1127.5" font-family="Liberation Sans, sans-serif" font-weight="bold" font-size="32" textLength="457" lengthAdjust="spacingAndGlyphs">Eigengene adjacency heatmap</text>
<path d="M1378.5 1158.3 V1367.5" stroke="#000" stroke-width="2.2"/>
<path d="M1362 1367.5 H1378.5" stroke="#000" stroke-width="2.2"/>
<path d="M1362 1325.7 H1378.5" stroke="#000" stroke-width="2.2"/>
<path d="M1362 1283.8 H1378.5" stroke="#000" stroke-width="2.2"/>
<path d="M1362 1242.0 H1378.5" stroke="#000" stroke-width="2.2"/>
<path d="M1362 1200.1 H1378.5" stroke="#000" stroke-width="2.2"/>
<path d="M1362 1158.3 H1378.5" stroke="#000" stroke-width="2.2"/>
<g transform="translate(1340.5,1200.4) rotate(-90)"><text x="0" y="0" text-anchor="middle" font-family="Liberation Sans, sans-serif" font-size="29">1.0</text></g>
<g transform="translate(1340.5,1283.9) rotate(-90)"><text x="0" y="0" text-anchor="middle" font-family="Liberation Sans, sans-serif" font-size="29">0.6</text></g>
<g transform="translate(1340.5,1367.5) rotate(-90)"><text x="0" y="0" text-anchor="middle" font-family="Liberation Sans, sans-serif" font-size="29">0.2</text></g>
<path d="M1411.6 1341.3 V1322.9 H1455.5 V1341.3 M1543.3 1350.7 V1332.3 H1587.2 V1350.7 M1499.4 1324.4 V1306.0 H1565.3 V1332.3 M1433.6 1322.9 V1283.9 H1532.4 V1306.0 M1675.1 1362.2 V1343.8 H1719.0 V1362.2 M1631.1 1320.7 V1302.3 H1697.0 V1343.8 M1762.9 1290.4 V1272.0 H1806.8 V1290.4 M1664.1 1302.3 V1224.8 H1784.8 V1272.0 M1483.0 1283.9 V1215.1 H1724.5 V1224.8 M1894.6 1312.0 V1293.6 H1938.5 V1312.0 M1850.7 1254.4 V1236.0 H1916.6 V1293.6 M2026.3 1299.0 V1280.6 H2070.2 V1299.0 M2114.2 1363.4 V1345.0 H2158.1 V1363.4 M2202.0 1320.7 V1302.3 H2245.9 V1320.7 M2136.1 1345.0 V1259.2 H2223.9 V1302.3 M2048.3 1280.6 V1244.0 H2180.0 V1259.2 M1982.4 1243.7 V1225.3 H2114.2 V1244.0 M1883.6 1236.0 V1191.0 H2048.3 V1225.3 M1603.7 1215.1 V1166.0 H1966.0 V1191.0" fill="none" stroke="#000" stroke-width="2.2"/>
<g transform="translate(1420.1,1365.8) rotate(-90)"><text x="0" y="0" text-anchor="end" font-family="Liberation Sans, sans-serif" font-size="29">MEturquoise</text></g>
<g transform="translate(1464.0,1365.8) rotate(-90)"><text x="0" y="0" text-anchor="end" font-family="Liberation Sans, sans-serif" font-size="29">MEgreen</text></g>
<g transform="translate(1507.9,1348.9) rotate(-90)"><text x="0" y="0" text-anchor="end" font-family="Liberation Sans, sans-serif" font-size="29">MEmagenta</text></g>
<g transform="translate(1551.8,1375.2) rotate(-90)"><text x="0" y="0" text-anchor="end" font-family="Liberation Sans, sans-serif" font-size="29">MEyellow</text></g>
<g transform="translate(1595.7,1375.2) rotate(-90)"><text x="0" y="0" text-anchor="end" font-family="Liberation Sans, sans-serif" font-size="29">MEred</text></g>
<g transform="translate(1639.6,1345.2) rotate(-90)"><text x="0" y="0" text-anchor="end" font-family="Liberation Sans, sans-serif" font-size="29">MEgrey60</text></g>
<g transform="translate(1683.6,1386.7) rotate(-90)"><text x="0" y="0" text-anchor="end" font-family="Liberation Sans, sans-serif" font-size="29">MEsalmon</text></g>
<g transform="translate(1727.5,1386.7) rotate(-90)"><text x="0" y="0" text-anchor="end" font-family="Liberation Sans, sans-serif" font-size="29">MElightgreen</text></g>
<g transform="translate(1771.4,1314.9) rotate(-90)"><text x="0" y="0" text-anchor="end" font-family="Liberation Sans, sans-serif" font-size="29">MElightcyan</text></g>
<g transform="translate(1815.3,1314.9) rotate(-90)"><text x="0" y="0" text-anchor="end" font-family="Liberation Sans, sans-serif" font-size="29">MElightyellow</text></g>
<g transform="translate(1859.2,1278.9) rotate(-90)"><text x="0" y="0" text-anchor="end" font-family="Liberation Sans, sans-serif" font-size="29">MEcyan</text></g>
<g transform="translate(1903.1,1336.5) rotate(-90)"><text x="0" y="0" text-anchor="end" font-family="Liberation Sans, sans-serif" font-size="29">MEbrown</text></g>
<g transform="translate(1947.0,1336.5) rotate(-90)"><text x="0" y="0" text-anchor="end" font-family="Liberation Sans, sans-serif" font-size="29">MEroyalblue</text></g>
<g transform="translate(1990.9,1268.2) rotate(-90)"><text x="0" y="0" text-anchor="end" font-family="Liberation Sans, sans-serif" font-size="29">MEpurple</text></g>
<g transform="translate(2034.8,1323.5) rotate(-90)"><text x="0" y="0" text-anchor="end" font-family="Liberation Sans, sans-serif" font-size="29">MEblack</text></g>
<g transform="translate(2078.8,1323.5) rotate(-90)"><text x="0" y="0" text-anchor="end" font-family="Liberation Sans, sans-serif" font-size="29">MEmidnightblue</text></g>
<g transform="translate(2122.7,1387.9) rotate(-90)"><text x="0" y="0" text-anchor="end" font-family="Liberation Sans, sans-serif" font-size="29">MEgreenyellow</text></g>
<g transform="translate(2166.6,1387.9) rotate(-90)"><text x="0" y="0" text-anchor="end" font-family="Liberation Sans, sans-serif" font-size="29">MEtan</text></g>
<g transform="translate(2210.5,1345.2) rotate(-90)"><text x="0" y="0" text-anchor="end" font-family="Liberation Sans, sans-serif" font-size="29">MEblue</text></g>
<g transform="translate(2254.4,1345.2) rotate(-90)"><text x="0" y="0" text-anchor="end" font-family="Liberation Sans, sans-serif" font-size="29">MEpink</text></g>
<text x="1653" y="1734.8" font-family="Liberation Sans, sans-serif" font-weight="bold" font-size="32" textLength="457" lengthAdjust="spacingAndGlyphs">Eigengene adjacency heatmap</text>
<rect x="1410.80" y="1757.90" width="43.22" height="22.26" fill="#ff3010"/><rect x="1453.42" y="1757.90" width="43.22" height="22.26" fill="#ff8468"/><rect x="1496.04" y="1757.90" width="43.22" height="22.26" fill="#ffb4a6"/><rect x="1538.66" y="1757.90" width="43.22" height="22.26" fill="#ffbeb1"/><rect x="1581.28" y="1757.90" width="43.22" height="22.26" fill="#ff9b86"/><rect x="1623.90" y="1757.90" width="43.22" height="22.26" fill="#ffd6cc"/><rect x="1666.52" y="1757.90" width="43.22" height="22.26" fill="#b8e6f8"/><rect x="1709.14" y="1757.90" width="43.22" height="22.26" fill="#ffa08b"/><rect x="1751.76" y="1757.90" width="43.22" height="22.26" fill="#fff4f1"/><rect x="1794.38" y="1757.90" width="43.22" height="22.26" fill="#e0f2fa"/><rect x="1837.00" y="1757.90" width="43.22" height="22.26" fill="#5ccef0"/><rect x="1879.62" y="1757.90" width="43.22" height="22.26" fill="#00bbe8"/><rect x="1922.24" y="1757.90" width="43.22" height="22.26" fill="#00bbe8"/><rect x="1964.86" y="1757.90" width="43.22" height="22.26" fill="#ffd3c8"/><rect x="2007.48" y="1757.90" width="43.22" height="22.26" fill="#e0f2fa"/><rect x="2050.10" y="1757.90" width="43.22" height="22.26" fill="#e0f2fa"/><rect x="2092.72" y="1757.90" width="43.22" height="22.26" fill="#ffffff"/><rect x="2135.34" y="1757.90" width="43.22" height="22.26" fill="#ff8468"/><rect x="2177.96" y="1757.90" width="43.22" height="22.26" fill="#ff8468"/><rect x="2220.58" y="1757.90" width="43.22" height="22.26" fill="#9cdff6"/><rect x="1410.80" y="1779.57" width="43.22" height="22.26" fill="#ff8468"/><rect x="1453.42" y="1779.57" width="43.22" height="22.26" fill="#ff3010"/><rect x="1496.04" y="1779.57" width="43.22" height="22.26" fill="#ffb0a1"/><rect x="1538.66" y="1779.57" width="43.22" height="22.26" fill="#ffb0a1"/><rect x="1581.28" y="1779.57" width="43.22" height="22.26" fill="#ff8468"/><rect x="1623.90" y="1779.57" width="43.22" height="22.26" fill="#ffdfd7"/><rect x="1666.52" y="1779.57" width="43.22" height="22.26" fill="#ffffff"/><rect x="1709.14" y="1779.57" width="43.22" height="22.26" fill="#ffa08b"/><rect x="1751.76" y="1779.57" width="43.22" height="22.26" fill="#ffffff"/><rect x="1794.38" y="1779.57" width="43.22" height="22.26" fill="#ffffff"/><rect x="1837.00" y="1779.57" width="43.22" height="22.26" fill="#a6e1f6"/><rect x="1879.62" y="1779.57" width="43.22" height="22.26" fill="#d8f0fa"/><rect x="1922.24" y="1779.57" width="43.22" height="22.26" fill="#9cdff6"/><rect x="1964.86" y="1779.57" width="43.22" height="22.26" fill="#ffffff"/><rect x="2007.48" y="1779.57" width="43.22" height="22.26" fill="#9cdff6"/><rect x="2050.10" y="1779.57" width="43.22" height="22.26" fill="#9cdff6"/><rect x="2092.72" y="1779.57" width="43.22" height="22.26" fill="#ffffff"/><rect x="2135.34" y="1779.57" width="43.22" height="22.26" fill="#ffe3dd"/><rect x="2177.96" y="1779.57" width="43.22" height="22.26" fill="#fff4f1"/><rect x="2220.58" y="1779.57" width="43.22" height="22.26" fill="#09bde9"/><rect x="1410.80" y="1801.23" width="43.22" height="22.26" fill="#ffb4a6"/><rect x="1453.42" y="1801.23" width="43.22" height="22.26" fill="#ffb0a1"/><rect x="1496.04" y="1801.23" width="43.22" height="22.26" fill="#ff3010"/><rect x="1538.66" y="1801.23" width="43.22" height="22.26" fill="#ff937b"/><rect x="1581.28" y="1801.23" width="43.22" height="22.26" fill="#ff8b70"/><rect x="1623.90" y="1801.23" width="43.22" height="22.26" fill="#ffa490"/><rect x="1666.52" y="1801.23" width="43.22" height="22.26" fill="#ffd3c8"/><rect x="1709.14" y="1801.23" width="43.22" height="22.26" fill="#ff937b"/><rect x="1751.76" y="1801.23" width="43.22" height="22.26" fill="#ffbeb1"/><rect x="1794.38" y="1801.23" width="43.22" height="22.26" fill="#ffece8"/><rect x="1837.00" y="1801.23" width="43.22" height="22.26" fill="#e0f2fa"/><rect x="1879.62" y="1801.23" width="43.22" height="22.26" fill="#ffe3dd"/><rect x="1922.24" y="1801.23" width="43.22" height="22.26" fill="#00bbe8"/><rect x="1964.86" y="1801.23" width="43.22" height="22.26" fill="#e0f2fa"/><rect x="2007.48" y="1801.23" width="43.22" height="22.26" fill="#00bbe8"/><rect x="2050.10" y="1801.23" width="43.22" height="22.26" fill="#5ccef0"/><rect x="2092.72" y="1801.23" width="43.22" height="22.26" fill="#5ccef0"/><rect x="2135.34" y="1801.23" width="43.22" height="22.26" fill="#9cdff6"/><rect x="2177.96" y="1801.23" width="43.22" height="22.26" fill="#9cdff6"/><rect x="2220.58" y="1801.23" width="43.22" height="22.26" fill="#00bbe8"/><rect x="1410.80" y="1822.89" width="43.22" height="22.26" fill="#ffbeb1"/><rect x="1453.42" y="1822.89" width="43.22" height="22.26" fill="#ffb0a1"/><rect x="1496.04" y="1822.89" width="43.22" height="22.26" fill="#ff937b"/><rect x="1538.66" y="1822.89" width="43.22" height="22.26" fill="#ff3010"/><rect x="1581.28" y="1822.89" width="43.22" height="22.26" fill="#ff7a5c"/><rect x="1623.90" y="1822.89" width="43.22" height="22.26" fill="#e0f2fa"/><rect x="1666.52" y="1822.89" width="43.22" height="22.26" fill="#78d5f2"/><rect x="1709.14" y="1822.89" width="43.22" height="22.26" fill="#e0f2fa"/><rect x="1751.76" y="1822.89" width="43.22" height="22.26" fill="#ffffff"/><rect x="1794.38" y="1822.89" width="43.22" height="22.26" fill="#c8ebf9"/><rect x="1837.00" y="1822.89" width="43.22" height="22.26" fill="#f3fafd"/><rect x="1879.62" y="1822.89" width="43.22" height="22.26" fill="#ffc2b5"/><rect x="1922.24" y="1822.89" width="43.22" height="22.26" fill="#fff4f1"/><rect x="1964.86" y="1822.89" width="43.22" height="22.26" fill="#ffffff"/><rect x="2007.48" y="1822.89" width="43.22" height="22.26" fill="#d8f0fa"/><rect x="2050.10" y="1822.89" width="43.22" height="22.26" fill="#fff4f1"/><rect x="2092.72" y="1822.89" width="43.22" height="22.26" fill="#ffffff"/><rect x="2135.34" y="1822.89" width="43.22" height="22.26" fill="#e0f2fa"/><rect x="2177.96" y="1822.89" width="43.22" height="22.26" fill="#ffffff"/><rect x="2220.58" y="1822.89" width="43.22" height="22.26" fill="#6ed3f2"/><rect x="1410.80" y="1844.56" width="43.22" height="22.26" fill="#ff9b86"/><rect x="1453.42" y="1844.56" width="43.22" height="22.26" fill="#ff8468"/><rect x="1496.04" y="1844.56" width="43.22" height="22.26" fill="#ff8b70"/><rect x="1538.66" y="1844.56" width="43.22" height="22.26" fill="#ff7a5c"/><rect x="1581.28" y="1844.56" width="43.22" height="22.26" fill="#ff3010"/><rect x="1623.90" y="1844.56" width="43.22" height="22.26" fill="#f3fafd"/><rect x="1666.52" y="1844.56" width="43.22" height="22.26" fill="#78d5f2"/><rect x="1709.14" y="1844.56" width="43.22" height="22.26" fill="#fff4f1"/><rect x="1751.76" y="1844.56" width="43.22" height="22.26" fill="#ffece8"/><rect x="1794.38" y="1844.56" width="43.22" height="22.26" fill="#ffffff"/><rect x="1837.00" y="1844.56" width="43.22" height="22.26" fill="#ffffff"/><rect x="1879.62" y="1844.56" width="43.22" height="22.26" fill="#78d5f2"/><rect x="1922.24" y="1844.56" width="43.22" height="22.26" fill="#afe4f7"/><rect x="1964.86" y="1844.56" width="43.22" height="22.26" fill="#ffffff"/><rect x="2007.48" y="1844.56" width="43.22" height="22.26" fill="#e6f5fb"/><rect x="2050.10" y="1844.56" width="43.22" height="22.26" fill="#ffffff"/><rect x="2092.72" y="1844.56" width="43.22" height="22.26" fill="#ffd3c8"/><rect x="2135.34" y="1844.56" width="43.22" height="22.26" fill="#ffe8e2"/><rect x="2177.96" y="1844.56" width="43.22" height="22.26" fill="#ffd3c8"/><rect x="2220.58" y="1844.56" width="43.22" height="22.26" fill="#6ed3f2"/><rect x="1410.80" y="1866.22" width="43.22" height="22.26" fill="#ffd6cc"/><rect x="1453.42" y="1866.22" width="43.22" height="22.26" fill="#ffdfd7"/><rect x="1496.04" y="1866.22" width="43.22" height="22.26" fill="#ffa490"/><rect x="1538.66" y="1866.22" width="43.22" height="22.26" fill="#e0f2fa"/><rect x="1581.28" y="1866.22" width="43.22" height="22.26" fill="#f3fafd"/><rect x="1623.90" y="1866.22" width="43.22" height="22.26" fill="#ff3010"/><rect x="1666.52" y="1866.22" width="43.22" height="22.26" fill="#ffb0a1"/><rect x="1709.14" y="1866.22" width="43.22" height="22.26" fill="#ff6f50"/><rect x="1751.76" y="1866.22" width="43.22" height="22.26" fill="#ffffff"/><rect x="1794.38" y="1866.22" width="43.22" height="22.26" fill="#ffece8"/><rect x="1837.00" y="1866.22" width="43.22" height="22.26" fill="#afe4f7"/><rect x="1879.62" y="1866.22" width="43.22" height="22.26" fill="#ffdad2"/><rect x="1922.24" y="1866.22" width="43.22" height="22.26" fill="#afe4f7"/><rect x="1964.86" y="1866.22" width="43.22" height="22.26" fill="#f3fafd"/><rect x="2007.48" y="1866.22" width="43.22" height="22.26" fill="#5ccef0"/><rect x="2050.10" y="1866.22" width="43.22" height="22.26" fill="#5ccef0"/><rect x="2092.72" y="1866.22" width="43.22" height="22.26" fill="#9cdff6"/><rect x="2135.34" y="1866.22" width="43.22" height="22.26" fill="#ffffff"/><rect x="2177.96" y="1866.22" width="43.22" height="22.26" fill="#b8e6f8"/><rect x="2220.58" y="1866.22" width="43.22" height="22.26" fill="#b8e6f8"/><rect x="1410.80" y="1887.89" width="43.22" height="22.26" fill="#b8e6f8"/><rect x="1453.42" y="1887.89" width="43.22" height="22.26" fill="#ffffff"/><rect x="1496.04" y="1887.89" width="43.22" height="22.26" fill="#ffd3c8"/><rect x="1538.66" y="1887.89" width="43.22" height="22.26" fill="#78d5f2"/><rect x="1581.28" y="1887.89" width="43.22" height="22.26" fill="#78d5f2"/><rect x="1623.90" y="1887.89" width="43.22" height="22.26" fill="#ffb0a1"/><rect x="1666.52" y="1887.89" width="43.22" height="22.26" fill="#ff3010"/><rect x="1709.14" y="1887.89" width="43.22" height="22.26" fill="#ff6848"/><rect x="1751.76" y="1887.89" width="43.22" height="22.26" fill="#ffe3dd"/><rect x="1794.38" y="1887.89" width="43.22" height="22.26" fill="#ffe8e2"/><rect x="1837.00" y="1887.89" width="43.22" height="22.26" fill="#d8f0fa"/><rect x="1879.62" y="1887.89" width="43.22" height="22.26" fill="#ffa490"/><rect x="1922.24" y="1887.89" width="43.22" height="22.26" fill="#b8e6f8"/><rect x="1964.86" y="1887.89" width="43.22" height="22.26" fill="#78d5f2"/><rect x="2007.48" y="1887.89" width="43.22" height="22.26" fill="#b8e6f8"/><rect x="2050.10" y="1887.89" width="43.22" height="22.26" fill="#e0f2fa"/><rect x="2092.72" y="1887.89" width="43.22" height="22.26" fill="#40c8ee"/><rect x="2135.34" y="1887.89" width="43.22" height="22.26" fill="#40c8ee"/><rect x="2177.96" y="1887.89" width="43.22" height="22.26" fill="#00b3e3"/><rect x="2220.58" y="1887.89" width="43.22" height="22.26" fill="#40c8ee"/><rect x="1410.80" y="1909.56" width="43.22" height="22.26" fill="#ffa08b"/><rect x="1453.42" y="1909.56" width="43.22" height="22.26" fill="#ffa08b"/><rect x="1496.04" y="1909.56" width="43.22" height="22.26" fill="#ff937b"/><rect x="1538.66" y="1909.56" width="43.22" height="22.26" fill="#e0f2fa"/><rect x="1581.28" y="1909.56" width="43.22" height="22.26" fill="#fff4f1"/><rect x="1623.90" y="1909.56" width="43.22" height="22.26" fill="#ff6f50"/><rect x="1666.52" y="1909.56" width="43.22" height="22.26" fill="#ff6848"/><rect x="1709.14" y="1909.56" width="43.22" height="22.26" fill="#ff3010"/><rect x="1751.76" y="1909.56" width="43.22" height="22.26" fill="#ffe3dd"/><rect x="1794.38" y="1909.56" width="43.22" height="22.26" fill="#ffe3dd"/><rect x="1837.00" y="1909.56" width="43.22" height="22.26" fill="#6ed3f2"/><rect x="1879.62" y="1909.56" width="43.22" height="22.26" fill="#ffe8e2"/><rect x="1922.24" y="1909.56" width="43.22" height="22.26" fill="#40c8ee"/><rect x="1964.86" y="1909.56" width="43.22" height="22.26" fill="#c8ebf9"/><rect x="2007.48" y="1909.56" width="43.22" height="22.26" fill="#6ed3f2"/><rect x="2050.10" y="1909.56" width="43.22" height="22.26" fill="#9cdff6"/><rect x="2092.72" y="1909.56" width="43.22" height="22.26" fill="#6ed3f2"/><rect x="2135.34" y="1909.56" width="43.22" height="22.26" fill="#ffffff"/><rect x="2177.96" y="1909.56" width="43.22" height="22.26" fill="#78d5f2"/><rect x="2220.58" y="1909.56" width="43.22" height="22.26" fill="#00bbe8"/><rect x="1410.80" y="1931.22" width="43.22" height="22.26" fill="#fff4f1"/><rect x="1453.42" y="1931.22" width="43.22" height="22.26" fill="#ffffff"/><rect x="1496.04" y="1931.22" width="43.22" height="22.26" fill="#ffbeb1"/><rect x="1538.66" y="1931.22" width="43.22" height="22.26" fill="#ffffff"/><rect x="1581.28" y="1931.22" width="43.22" height="22.26" fill="#ffece8"/><rect x="1623.90" y="1931.22" width="43.22" height="22.26" fill="#ffffff"/><rect x="1666.52" y="1931.22" width="43.22" height="22.26" fill="#ffe3dd"/><rect x="1709.14" y="1931.22" width="43.22" height="22.26" fill="#ffe3dd"/><rect x="1751.76" y="1931.22" width="43.22" height="22.26" fill="#ff3010"/><rect x="1794.38" y="1931.22" width="43.22" height="22.26" fill="#ffb0a1"/><rect x="1837.00" y="1931.22" width="43.22" height="22.26" fill="#ffffff"/><rect x="1879.62" y="1931.22" width="43.22" height="22.26" fill="#f3fafd"/><rect x="1922.24" y="1931.22" width="43.22" height="22.26" fill="#afe4f7"/><rect x="1964.86" y="1931.22" width="43.22" height="22.26" fill="#e0f2fa"/><rect x="2007.48" y="1931.22" width="43.22" height="22.26" fill="#b8e6f8"/><rect x="2050.10" y="1931.22" width="43.22" height="22.26" fill="#b8e6f8"/><rect x="2092.72" y="1931.22" width="43.22" height="22.26" fill="#c8ebf9"/><rect x="2135.34" y="1931.22" width="43.22" height="22.26" fill="#d8f0fa"/><rect x="2177.96" y="1931.22" width="43.22" height="22.26" fill="#e0f2fa"/><rect x="2220.58" y="1931.22" width="43.22" height="22.26" fill="#c8ebf9"/><rect x="1410.80" y="1952.88" width="43.22" height="22.26" fill="#e0f2fa"/><rect x="1453.42" y="1952.88" width="43.22" height="22.26" fill="#ffffff"/><rect x="1496.04" y="1952.88" width="43.22" height="22.26" fill="#ffece8"/><rect x="1538.66" y="1952.88" width="43.22" height="22.26" fill="#c8ebf9"/><rect x="1581.28" y="1952.88" width="43.22" height="22.26" fill="#ffffff"/><rect x="1623.90" y="1952.88" width="43.22" height="22.26" fill="#ffece8"/><rect x="1666.52" y="1952.88" width="43.22" height="22.26" fill="#ffe8e2"/><rect x="1709.14" y="1952.88" width="43.22" height="22.26" fill="#ffe3dd"/><rect x="1751.76" y="1952.88" width="43.22" height="22.26" fill="#ffb0a1"/><rect x="1794.38" y="1952.88" width="43.22" height="22.26" fill="#ff3010"/><rect x="1837.00" y="1952.88" width="43.22" height="22.26" fill="#ffffff"/><rect x="1879.62" y="1952.88" width="43.22" height="22.26" fill="#e0f2fa"/><rect x="1922.24" y="1952.88" width="43.22" height="22.26" fill="#f3fafd"/><rect x="1964.86" y="1952.88" width="43.22" height="22.26" fill="#f3fafd"/><rect x="2007.48" y="1952.88" width="43.22" height="22.26" fill="#b8e6f8"/><rect x="2050.10" y="1952.88" width="43.22" height="22.26" fill="#d8f0fa"/><rect x="2092.72" y="1952.88" width="43.22" height="22.26" fill="#ffffff"/><rect x="2135.34" y="1952.88" width="43.22" height="22.26" fill="#f3fafd"/><rect x="2177.96" y="1952.88" width="43.22" height="22.26" fill="#d8f0fa"/><rect x="2220.58" y="1952.88" width="43.22" height="22.26" fill="#d8f0fa"/><rect x="1410.80" y="1974.55" width="43.22" height="22.26" fill="#5ccef0"/><rect x="1453.42" y="1974.55" width="43.22" height="22.26" fill="#a6e1f6"/><rect x="1496.04" y="1974.55" width="43.22" height="22.26" fill="#e0f2fa"/><rect x="1538.66" y="1974.55" width="43.22" height="22.26" fill="#f3fafd"/><rect x="1581.28" y="1974.55" width="43.22" height="22.26" fill="#ffffff"/><rect x="1623.90" y="1974.55" width="43.22" height="22.26" fill="#afe4f7"/><rect x="1666.52" y="1974.55" width="43.22" height="22.26" fill="#d8f0fa"/><rect x="1709.14" y="1974.55" width="43.22" height="22.26" fill="#6ed3f2"/><rect x="1751.76" y="1974.55" width="43.22" height="22.26" fill="#ffffff"/><rect x="1794.38" y="1974.55" width="43.22" height="22.26" fill="#ffffff"/><rect x="1837.00" y="1974.55" width="43.22" height="22.26" fill="#ff3010"/><rect x="1879.62" y="1974.55" width="43.22" height="22.26" fill="#ffffff"/><rect x="1922.24" y="1974.55" width="43.22" height="22.26" fill="#ffb4a6"/><rect x="1964.86" y="1974.55" width="43.22" height="22.26" fill="#f3fafd"/><rect x="2007.48" y="1974.55" width="43.22" height="22.26" fill="#ffffff"/><rect x="2050.10" y="1974.55" width="43.22" height="22.26" fill="#ffe8e2"/><rect x="2092.72" y="1974.55" width="43.22" height="22.26" fill="#ffbeb1"/><rect x="2135.34" y="1974.55" width="43.22" height="22.26" fill="#e0f2fa"/><rect x="2177.96" y="1974.55" width="43.22" height="22.26" fill="#d8f0fa"/><rect x="2220.58" y="1974.55" width="43.22" height="22.26" fill="#ffe3dd"/><rect x="1410.80" y="1996.21" width="43.22" height="22.26" fill="#00bbe8"/><rect x="1453.42" y="1996.21" width="43.22" height="22.26" fill="#d8f0fa"/><rect x="1496.04" y="1996.21" width="43.22" height="22.26" fill="#ffe3dd"/><rect x="1538.66" y="1996.21" width="43.22" height="22.26" fill="#ffc2b5"/><rect x="1581.28" y="1996.21" width="43.22" height="22.26" fill="#78d5f2"/><rect x="1623.90" y="1996.21" width="43.22" height="22.26" fill="#ffdad2"/><rect x="1666.52" y="1996.21" width="43.22" height="22.26" fill="#ffa490"/><rect x="1709.14" y="1996.21" width="43.22" height="22.26" fill="#ffe8e2"/><rect x="1751.76" y="1996.21" width="43.22" height="22.26" fill="#f3fafd"/><rect x="1794.38" y="1996.21" width="43.22" height="22.26" fill="#e0f2fa"/><rect x="1837.00" y="1996.21" width="43.22" height="22.26" fill="#ffffff"/><rect x="1879.62" y="1996.21" width="43.22" height="22.26" fill="#ff3010"/><rect x="1922.24" y="1996.21" width="43.22" height="22.26" fill="#ff9780"/><rect x="1964.86" y="1996.21" width="43.22" height="22.26" fill="#9cdff6"/><rect x="2007.48" y="1996.21" width="43.22" height="22.26" fill="#d8f0fa"/><rect x="2050.10" y="1996.21" width="43.22" height="22.26" fill="#f3fafd"/><rect x="2092.72" y="1996.21" width="43.22" height="22.26" fill="#afe4f7"/><rect x="2135.34" y="1996.21" width="43.22" height="22.26" fill="#00bbe8"/><rect x="2177.96" y="1996.21" width="43.22" height="22.26" fill="#00a0d8"/><rect x="2220.58" y="1996.21" width="43.22" height="22.26" fill="#b8e6f8"/><rect x="1410.80" y="2017.88" width="43.22" height="22.26" fill="#00bbe8"/><rect x="1453.42" y="2017.88" width="43.22" height="22.26" fill="#9cdff6"/><rect x="1496.04" y="2017.88" width="43.22" height="22.26" fill="#00bbe8"/><rect x="1538.66" y="2017.88" width="43.22" height="22.26" fill="#fff4f1"/><rect x="1581.28" y="2017.88" width="43.22" height="22.26" fill="#afe4f7"/><rect x="1623.90" y="2017.88" width="43.22" height="22.26" fill="#afe4f7"/><rect x="1666.52" y="2017.88" width="43.22" height="22.26" fill="#b8e6f8"/><rect x="1709.14" y="2017.88" width="43.22" height="22.26" fill="#40c8ee"/><rect x="1751.76" y="2017.88" width="43.22" height="22.26" fill="#afe4f7"/><rect x="1794.38" y="2017.88" width="43.22" height="22.26" fill="#f3fafd"/><rect x="1837.00" y="2017.88" width="43.22" height="22.26" fill="#ffb4a6"/><rect x="1879.62" y="2017.88" width="43.22" height="22.26" fill="#ff9780"/><rect x="1922.24" y="2017.88" width="43.22" height="22.26" fill="#ff3010"/><rect x="1964.86" y="2017.88" width="43.22" height="22.26" fill="#c8ebf9"/><rect x="2007.48" y="2017.88" width="43.22" height="22.26" fill="#ffc2b5"/><rect x="2050.10" y="2017.88" width="43.22" height="22.26" fill="#ffc2b5"/><rect x="2092.72" y="2017.88" width="43.22" height="22.26" fill="#ff7658"/><rect x="2135.34" y="2017.88" width="43.22" height="22.26" fill="#ffe3dd"/><rect x="2177.96" y="2017.88" width="43.22" height="22.26" fill="#b8e6f8"/><rect x="2220.58" y="2017.88" width="43.22" height="22.26" fill="#ffd3c8"/><rect x="1410.80" y="2039.54" width="43.22" height="22.26" fill="#ffd3c8"/><rect x="1453.42" y="2039.54" width="43.22" height="22.26" fill="#ffffff"/><rect x="1496.04" y="2039.54" width="43.22" height="22.26" fill="#e0f2fa"/><rect x="1538.66" y="2039.54" width="43.22" height="22.26" fill="#ffffff"/><rect x="1581.28" y="2039.54" width="43.22" height="22.26" fill="#ffffff"/><rect x="1623.90" y="2039.54" width="43.22" height="22.26" fill="#f3fafd"/><rect x="1666.52" y="2039.54" width="43.22" height="22.26" fill="#78d5f2"/><rect x="1709.14" y="2039.54" width="43.22" height="22.26" fill="#c8ebf9"/><rect x="1751.76" y="2039.54" width="43.22" height="22.26" fill="#e0f2fa"/><rect x="1794.38" y="2039.54" width="43.22" height="22.26" fill="#f3fafd"/><rect x="1837.00" y="2039.54" width="43.22" height="22.26" fill="#f3fafd"/><rect x="1879.62" y="2039.54" width="43.22" height="22.26" fill="#9cdff6"/><rect x="1922.24" y="2039.54" width="43.22" height="22.26" fill="#c8ebf9"/><rect x="1964.86" y="2039.54" width="43.22" height="22.26" fill="#ff3010"/><rect x="2007.48" y="2039.54" width="43.22" height="22.26" fill="#e0f2fa"/><rect x="2050.10" y="2039.54" width="43.22" height="22.26" fill="#ffffff"/><rect x="2092.72" y="2039.54" width="43.22" height="22.26" fill="#ffffff"/><rect x="2135.34" y="2039.54" width="43.22" height="22.26" fill="#ffd3c8"/><rect x="2177.96" y="2039.54" width="43.22" height="22.26" fill="#ffb4a6"/><rect x="2220.58" y="2039.54" width="43.22" height="22.26" fill="#ffdad2"/><rect x="1410.80" y="2061.21" width="43.22" height="22.26" fill="#e0f2fa"/><rect x="1453.42" y="2061.21" width="43.22" height="22.26" fill="#9cdff6"/><rect x="1496.04" y="2061.21" width="43.22" height="22.26" fill="#00bbe8"/><rect x="1538.66" y="2061.21" width="43.22" height="22.26" fill="#d8f0fa"/><rect x="1581.28" y="2061.21" width="43.22" height="22.26" fill="#e6f5fb"/><rect x="1623.90" y="2061.21" width="43.22" height="22.26" fill="#5ccef0"/><rect x="1666.52" y="2061.21" width="43.22" height="22.26" fill="#b8e6f8"/><rect x="1709.14" y="2061.21" width="43.22" height="22.26" fill="#6ed3f2"/><rect x="1751.76" y="2061.21" width="43.22" height="22.26" fill="#b8e6f8"/><rect x="1794.38" y="2061.21" width="43.22" height="22.26" fill="#b8e6f8"/><rect x="1837.00" y="2061.21" width="43.22" height="22.26" fill="#ffffff"/><rect x="1879.62" y="2061.21" width="43.22" height="22.26" fill="#d8f0fa"/><rect x="1922.24" y="2061.21" width="43.22" height="22.26" fill="#ffc2b5"/><rect x="1964.86" y="2061.21" width="43.22" height="22.26" fill="#e0f2fa"/><rect x="2007.48" y="2061.21" width="43.22" height="22.26" fill="#ff3010"/><rect x="2050.10" y="2061.21" width="43.22" height="22.26" fill="#ffb0a1"/><rect x="2092.72" y="2061.21" width="43.22" height="22.26" fill="#ffbeb1"/><rect x="2135.34" y="2061.21" width="43.22" height="22.26" fill="#ffd3c8"/><rect x="2177.96" y="2061.21" width="43.22" height="22.26" fill="#ffc8bd"/><rect x="2220.58" y="2061.21" width="43.22" height="22.26" fill="#ffdad2"/><rect x="1410.80" y="2082.88" width="43.22" height="22.26" fill="#e0f2fa"/><rect x="1453.42" y="2082.88" width="43.22" height="22.26" fill="#9cdff6"/><rect x="1496.04" y="2082.88" width="43.22" height="22.26" fill="#5ccef0"/><rect x="1538.66" y="2082.88" width="43.22" height="22.26" fill="#fff4f1"/><rect x="1581.28" y="2082.88" width="43.22" height="22.26" fill="#ffffff"/><rect x="1623.90" y="2082.88" width="43.22" height="22.26" fill="#5ccef0"/><rect x="1666.52" y="2082.88" width="43.22" height="22.26" fill="#e0f2fa"/><rect x="1709.14" y="2082.88" width="43.22" height="22.26" fill="#9cdff6"/><rect x="1751.76" y="2082.88" width="43.22" height="22.26" fill="#b8e6f8"/><rect x="1794.38" y="2082.88" width="43.22" height="22.26" fill="#d8f0fa"/><rect x="1837.00" y="2082.88" width="43.22" height="22.26" fill="#ffe8e2"/><rect x="1879.62" y="2082.88" width="43.22" height="22.26" fill="#f3fafd"/><rect x="1922.24" y="2082.88" width="43.22" height="22.26" fill="#ffc2b5"/><rect x="1964.86" y="2082.88" width="43.22" height="22.26" fill="#ffffff"/><rect x="2007.48" y="2082.88" width="43.22" height="22.26" fill="#ffb0a1"/><rect x="2050.10" y="2082.88" width="43.22" height="22.26" fill="#ff3010"/><rect x="2092.72" y="2082.88" width="43.22" height="22.26" fill="#ffc2b5"/><rect x="2135.34" y="2082.88" width="43.22" height="22.26" fill="#ffece8"/><rect x="2177.96" y="2082.88" width="43.22" height="22.26" fill="#ffdad2"/><rect x="2220.58" y="2082.88" width="43.22" height="22.26" fill="#ffdad2"/><rect x="1410.80" y="2104.54" width="43.22" height="22.26" fill="#ffffff"/><rect x="1453.42" y="2104.54" width="43.22" height="22.26" fill="#ffffff"/><rect x="1496.04" y="2104.54" width="43.22" height="22.26" fill="#5ccef0"/><rect x="1538.66" y="2104.54" width="43.22" height="22.26" fill="#ffffff"/><rect x="1581.28" y="2104.54" width="43.22" height="22.26" fill="#ffd3c8"/><rect x="1623.90" y="2104.54" width="43.22" height="22.26" fill="#9cdff6"/><rect x="1666.52" y="2104.54" width="43.22" height="22.26" fill="#40c8ee"/><rect x="1709.14" y="2104.54" width="43.22" height="22.26" fill="#6ed3f2"/><rect x="1751.76" y="2104.54" width="43.22" height="22.26" fill="#c8ebf9"/><rect x="1794.38" y="2104.54" width="43.22" height="22.26" fill="#ffffff"/><rect x="1837.00" y="2104.54" width="43.22" height="22.26" fill="#ffbeb1"/><rect x="1879.62" y="2104.54" width="43.22" height="22.26" fill="#afe4f7"/><rect x="1922.24" y="2104.54" width="43.22" height="22.26" fill="#ff7658"/><rect x="1964.86" y="2104.54" width="43.22" height="22.26" fill="#ffffff"/><rect x="2007.48" y="2104.54" width="43.22" height="22.26" fill="#ffbeb1"/><rect x="2050.10" y="2104.54" width="43.22" height="22.26" fill="#ffc2b5"/><rect x="2092.72" y="2104.54" width="43.22" height="22.26" fill="#ff3010"/><rect x="2135.34" y="2104.54" width="43.22" height="22.26" fill="#ff6848"/><rect x="2177.96" y="2104.54" width="43.22" height="22.26" fill="#ffbeb1"/><rect x="2220.58" y="2104.54" width="43.22" height="22.26" fill="#fff0ed"/><rect x="1410.80" y="2126.20" width="43.22" height="22.26" fill="#ff8468"/><rect x="1453.42" y="2126.20" width="43.22" height="22.26" fill="#ffe3dd"/><rect x="1496.04" y="2126.20" width="43.22" height="22.26" fill="#9cdff6"/><rect x="1538.66" y="2126.20" width="43.22" height="22.26" fill="#e0f2fa"/><rect x="1581.28" y="2126.20" width="43.22" height="22.26" fill="#ffe8e2"/><rect x="1623.90" y="2126.20" width="43.22" height="22.26" fill="#ffffff"/><rect x="1666.52" y="2126.20" width="43.22" height="22.26" fill="#40c8ee"/><rect x="1709.14" y="2126.20" width="43.22" height="22.26" fill="#ffffff"/><rect x="1751.76" y="2126.20" width="43.22" height="22.26" fill="#d8f0fa"/><rect x="1794.38" y="2126.20" width="43.22" height="22.26" fill="#f3fafd"/><rect x="1837.00" y="2126.20" width="43.22" height="22.26" fill="#e0f2fa"/><rect x="1879.62" y="2126.20" width="43.22" height="22.26" fill="#00bbe8"/><rect x="1922.24" y="2126.20" width="43.22" height="22.26" fill="#ffe3dd"/><rect x="1964.86" y="2126.20" width="43.22" height="22.26" fill="#ffd3c8"/><rect x="2007.48" y="2126.20" width="43.22" height="22.26" fill="#ffd3c8"/><rect x="2050.10" y="2126.20" width="43.22" height="22.26" fill="#ffece8"/><rect x="2092.72" y="2126.20" width="43.22" height="22.26" fill="#ff6848"/><rect x="2135.34" y="2126.20" width="43.22" height="22.26" fill="#ff3010"/><rect x="2177.96" y="2126.20" width="43.22" height="22.26" fill="#ff7354"/><rect x="2220.58" y="2126.20" width="43.22" height="22.26" fill="#fff0ed"/><rect x="1410.80" y="2147.87" width="43.22" height="22.26" fill="#ff8468"/><rect x="1453.42" y="2147.87" width="43.22" height="22.26" fill="#fff4f1"/><rect x="1496.04" y="2147.87" width="43.22" height="22.26" fill="#9cdff6"/><rect x="1538.66" y="2147.87" width="43.22" height="22.26" fill="#ffffff"/><rect x="1581.28" y="2147.87" width="43.22" height="22.26" fill="#ffd3c8"/><rect x="1623.90" y="2147.87" width="43.22" height="22.26" fill="#b8e6f8"/><rect x="1666.52" y="2147.87" width="43.22" height="22.26" fill="#00b3e3"/><rect x="1709.14" y="2147.87" width="43.22" height="22.26" fill="#78d5f2"/><rect x="1751.76" y="2147.87" width="43.22" height="22.26" fill="#e0f2fa"/><rect x="1794.38" y="2147.87" width="43.22" height="22.26" fill="#d8f0fa"/><rect x="1837.00" y="2147.87" width="43.22" height="22.26" fill="#d8f0fa"/><rect x="1879.62" y="2147.87" width="43.22" height="22.26" fill="#00a0d8"/><rect x="1922.24" y="2147.87" width="43.22" height="22.26" fill="#b8e6f8"/><rect x="1964.86" y="2147.87" width="43.22" height="22.26" fill="#ffb4a6"/><rect x="2007.48" y="2147.87" width="43.22" height="22.26" fill="#ffc8bd"/><rect x="2050.10" y="2147.87" width="43.22" height="22.26" fill="#ffdad2"/><rect x="2092.72" y="2147.87" width="43.22" height="22.26" fill="#ffbeb1"/><rect x="2135.34" y="2147.87" width="43.22" height="22.26" fill="#ff7354"/><rect x="2177.96" y="2147.87" width="43.22" height="22.26" fill="#ff3010"/><rect x="2220.58" y="2147.87" width="43.22" height="22.26" fill="#ff8f75"/><rect x="1410.80" y="2169.53" width="43.22" height="22.26" fill="#9cdff6"/><rect x="1453.42" y="2169.53" width="43.22" height="22.26" fill="#09bde9"/><rect x="1496.04" y="2169.53" width="43.22" height="22.26" fill="#00bbe8"/><rect x="1538.66" y="2169.53" width="43.22" height="22.26" fill="#6ed3f2"/><rect x="1581.28" y="2169.53" width="43.22" height="22.26" fill="#6ed3f2"/><rect x="1623.90" y="2169.53" width="43.22" height="22.26" fill="#b8e6f8"/><rect x="1666.52" y="2169.53" width="43.22" height="22.26" fill="#40c8ee"/><rect x="1709.14" y="2169.53" width="43.22" height="22.26" fill="#00bbe8"/><rect x="1751.76" y="2169.53" width="43.22" height="22.26" fill="#c8ebf9"/><rect x="1794.38" y="2169.53" width="43.22" height="22.26" fill="#d8f0fa"/><rect x="1837.00" y="2169.53" width="43.22" height="22.26" fill="#ffe3dd"/><rect x="1879.62" y="2169.53" width="43.22" height="22.26" fill="#b8e6f8"/><rect x="1922.24" y="2169.53" width="43.22" height="22.26" fill="#ffd3c8"/><rect x="1964.86" y="2169.53" width="43.22" height="22.26" fill="#ffdad2"/><rect x="2007.48" y="2169.53" width="43.22" height="22.26" fill="#ffdad2"/><rect x="2050.10" y="2169.53" width="43.22" height="22.26" fill="#ffdad2"/><rect x="2092.72" y="2169.53" width="43.22" height="22.26" fill="#fff0ed"/><rect x="2135.34" y="2169.53" width="43.22" height="22.26" fill="#fff0ed"/><rect x="2177.96" y="2169.53" width="43.22" height="22.26" fill="#ff8f75"/><rect x="2220.58" y="2169.53" width="43.22" height="22.26" fill="#ff3010"/>
<rect x="1410.8" y="1757.9" width="852.4" height="433.3" fill="none" stroke="#222" stroke-width="1.6"/>
<rect x="1358" y="1757.90" width="45.6" height="20.66" fill="#00c4c4"/>
<rect x="1410.80" y="2198" width="42.62" height="46" fill="#00c4c4"/>
<rect x="1358" y="1779.57" width="45.6" height="20.66" fill="#00b900"/>
<rect x="1453.42" y="2198" width="42.62" height="46" fill="#00b900"/>
<rect x="1358" y="1801.23" width="45.6" height="20.66" fill="#e05aa8"/>
<rect x="1496.04" y="2198" width="42.62" height="46" fill="#e05aa8"/>
<rect x="1358" y="1822.89" width="45.6" height="20.66" fill="#f8ec00"/>
<rect x="1538.66" y="2198" width="42.62" height="46" fill="#f8ec00"/>
<rect x="1358" y="1844.56" width="45.6" height="20.66" fill="#ff0012"/>
<rect x="1581.28" y="2198" width="42.62" height="46" fill="#ff0012"/>
<rect x="1358" y="1866.22" width="45.6" height="20.66" fill="#9b9b9b"/>
<rect x="1623.90" y="2198" width="42.62" height="46" fill="#9b9b9b"/>
<rect x="1358" y="1887.89" width="45.6" height="20.66" fill="#fd8070"/>
<rect x="1666.52" y="2198" width="42.62" height="46" fill="#fd8070"/>
<rect x="1358" y="1909.56" width="45.6" height="20.66" fill="#4cce82"/>
<rect x="1709.14" y="2198" width="42.62" height="46" fill="#4cce82"/>
<rect x="1358" y="1931.22" width="45.6" height="20.66" fill="#d8f2f2"/>
<rect x="1751.76" y="2198" width="42.62" height="46" fill="#d8f2f2"/>
<rect x="1358" y="1952.88" width="45.6" height="20.66" fill="#fdfae0"/>
<rect x="1794.38" y="2198" width="42.62" height="46" fill="#fdfae0"/>
<rect x="1358" y="1974.55" width="45.6" height="20.66" fill="#00c8e0"/>
<rect x="1837.00" y="2198" width="42.62" height="46" fill="#00c8e0"/>
<rect x="1358" y="1996.21" width="45.6" height="20.66" fill="#dc1e22"/>
<rect x="1879.62" y="2198" width="42.62" height="46" fill="#dc1e22"/>
<rect x="1358" y="2017.88" width="45.6" height="20.66" fill="#0066b6"/>
<rect x="1922.24" y="2198" width="42.62" height="46" fill="#0066b6"/>
<rect x="1358" y="2039.54" width="45.6" height="20.66" fill="#9045a0"/>
<rect x="1964.86" y="2198" width="42.62" height="46" fill="#9045a0"/>
<rect x="1358" y="2061.21" width="45.6" height="20.66" fill="#000000"/>
<rect x="2007.48" y="2198" width="42.62" height="46" fill="#000000"/>
<rect x="1358" y="2082.88" width="45.6" height="20.66" fill="#00205e"/>
<rect x="2050.10" y="2198" width="42.62" height="46" fill="#00205e"/>
<rect x="1358" y="2104.54" width="45.6" height="20.66" fill="#98d300"/>
<rect x="2092.72" y="2198" width="42.62" height="46" fill="#98d300"/>
<rect x="1358" y="2126.20" width="45.6" height="20.66" fill="#e8b88a"/>
<rect x="2135.34" y="2198" width="42.62" height="46" fill="#e8b88a"/>
<rect x="1358" y="2147.87" width="45.6" height="20.66" fill="#004ea8"/>
<rect x="2177.96" y="2198" width="42.62" height="46" fill="#004ea8"/>
<rect x="1358" y="2169.53" width="45.6" height="20.66" fill="#fdbfd0"/>
<rect x="2220.58" y="2198" width="42.62" height="46" fill="#fdbfd0"/>
<rect x="2278" y="1782.90" width="20" height="8.13" fill="#ff3616"/>
<rect x="2278" y="1790.53" width="20" height="8.13" fill="#ff4121"/>
<rect x="2278" y="1798.16" width="20" height="8.13" fill="#ff4c2c"/>
<rect x="2278" y="1805.80" width="20" height="8.13" fill="#ff5737"/>
<rect x="2278" y="1813.43" width="20" height="8.13" fill="#ff6242"/>
<rect x="2278" y="1821.06" width="20" height="8.13" fill="#ff6c4c"/>
<rect x="2278" y="1828.69" width="20" height="8.13" fill="#ff7354"/>
<rect x="2278" y="1836.32" width="20" height="8.13" fill="#ff7a5c"/>
<rect x="2278" y="1843.96" width="20" height="8.13" fill="#ff8164"/>
<rect x="2278" y="1851.59" width="20" height="8.13" fill="#ff886c"/>
<rect x="2278" y="1859.22" width="20" height="8.13" fill="#ff8f75"/>
<rect x="2278" y="1866.85" width="20" height="8.13" fill="#ff9780"/>
<rect x="2278" y="1874.48" width="20" height="8.13" fill="#ffa08b"/>
<rect x="2278" y="1882.12" width="20" height="8.13" fill="#ffa896"/>
<rect x="2278" y="1889.75" width="20" height="8.13" fill="#ffb0a1"/>
<rect x="2278" y="1897.38" width="20" height="8.13" fill="#ffb7aa"/>
<rect x="2278" y="1905.01" width="20" height="8.13" fill="#ffbeb1"/>
<rect x="2278" y="1912.64" width="20" height="8.13" fill="#ffc5b9"/>
<rect x="2278" y="1920.28" width="20" height="8.13" fill="#ffccc1"/>
<rect x="2278" y="1927.91" width="20" height="8.13" fill="#ffd3c8"/>
<rect x="2278" y="1935.54" width="20" height="8.13" fill="#ffdad2"/>
<rect x="2278" y="1943.17" width="20" height="8.13" fill="#ffe3dd"/>
<rect x="2278" y="1950.80" width="20" height="8.13" fill="#ffece8"/>
<rect x="2278" y="1958.44" width="20" height="8.13" fill="#fff4f1"/>
<rect x="2278" y="1966.07" width="20" height="8.13" fill="#fffbfa"/>
<rect x="2278" y="1973.70" width="20" height="8.13" fill="#f9fcfe"/>
<rect x="2278" y="1981.33" width="20" height="8.13" fill="#ecf7fc"/>
<rect x="2278" y="1988.96" width="20" height="8.13" fill="#e0f2fa"/>
<rect x="2278" y="1996.60" width="20" height="8.13" fill="#d0edf9"/>
<rect x="2278" y="2004.23" width="20" height="8.13" fill="#c0e8f8"/>
<rect x="2278" y="2011.86" width="20" height="8.13" fill="#afe4f7"/>
<rect x="2278" y="2019.49" width="20" height="8.13" fill="#9cdff6"/>
<rect x="2278" y="2027.12" width="20" height="8.13" fill="#8adaf4"/>
<rect x="2278" y="2034.76" width="20" height="8.13" fill="#78d5f2"/>
<rect x="2278" y="2042.39" width="20" height="8.13" fill="#65d0f1"/>
<rect x="2278" y="2050.02" width="20" height="8.13" fill="#53ccef"/>
<rect x="2278" y="2057.65" width="20" height="8.13" fill="#40c8ee"/>
<rect x="2278" y="2065.28" width="20" height="8.13" fill="#2ec4ec"/>
<rect x="2278" y="2072.92" width="20" height="8.13" fill="#1cc1ea"/>
<rect x="2278" y="2080.55" width="20" height="8.13" fill="#09bde9"/>
<rect x="2278" y="2088.18" width="20" height="8.13" fill="#00b8e6"/>
<rect x="2278" y="2095.81" width="20" height="8.13" fill="#00b3e3"/>
<rect x="2278" y="2103.44" width="20" height="8.13" fill="#00aee0"/>
<rect x="2278" y="2111.08" width="20" height="8.13" fill="#00a8dd"/>
<rect x="2278" y="2118.71" width="20" height="8.13" fill="#00a3da"/>
<rect x="2278" y="2126.34" width="20" height="8.13" fill="#019cd6"/>
<rect x="2278" y="2133.97" width="20" height="8.13" fill="#0394d1"/>
<rect x="2278" y="2141.60" width="20" height="8.13" fill="#058ccc"/>
<rect x="2278" y="2149.24" width="20" height="8.13" fill="#0784c7"/>
<rect x="2278" y="2156.87" width="20" height="8.13" fill="#097cc2"/>
<rect x="2278" y="1782.9" width="20" height="381.6" fill="none" stroke="#000" stroke-width="1.2"/>
<path d="M2298 1782.9 V2164.5" stroke="#000" stroke-width="2.4"/>
<path d="M2298 2164.5 H2314" stroke="#000" stroke-width="2.4"/>
<text x="2319" y="2174.2" font-family="Liberation Sans, sans-serif" font-size="27">0</text>
<path d="M2298 2088.2 H2314" stroke="#000" stroke-width="2.4"/>
<text x="2319" y="2097.9" font-family="Liberation Sans, sans-serif" font-size="27">0.2</text>
<path d="M2298 2011.9 H2314" stroke="#000" stroke-width="2.4"/>
<text x="2319" y="2021.6" font-family="Liberation Sans, sans-serif" font-size="27">0.4</text>
<path d="M2298 1935.5 H2314" stroke="#000" stroke-width="2.4"/>
<text x="2319" y="1945.2" font-family="Liberation Sans, sans-serif" font-size="27">0.6</text>
<path d="M2298 1859.2 H2314" stroke="#000" stroke-width="2.4"/>
<text x="2319" y="1868.9" font-family="Liberation Sans, sans-serif" font-size="27">0.8</text>
<path d="M2298 1782.9 H2314" stroke="#000" stroke-width="2.4"/>
<text x="2319" y="1792.6" font-family="Liberation Sans, sans-serif" font-size="27">1</text>
</svg>
</body></html>
